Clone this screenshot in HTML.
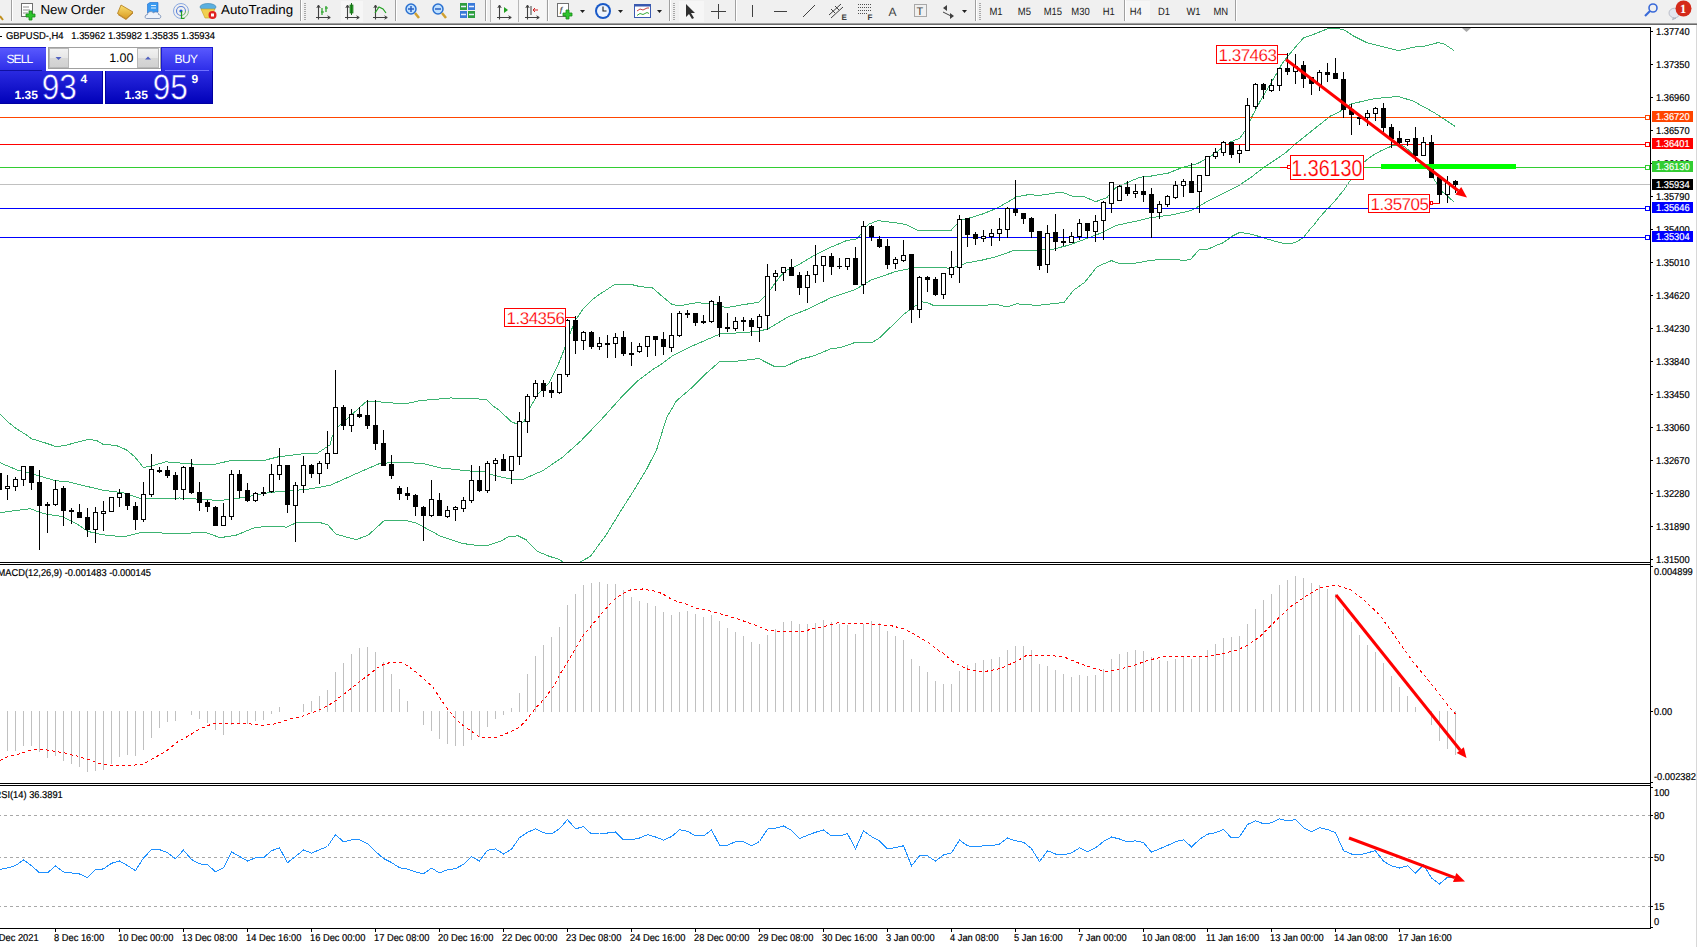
<!DOCTYPE html>
<html><head><meta charset="utf-8"><title>MT4 GBPUSD H4</title>
<style>
html,body{margin:0;padding:0;background:#fff;}
body{width:1697px;height:947px;overflow:hidden;position:relative;}
svg{position:absolute;left:0;top:0;display:block;font-family:"Liberation Sans", sans-serif;}
text{font-family:"Liberation Sans", sans-serif;text-rendering:geometricPrecision;}
</style></head>
<body>
<svg width="1697" height="947" viewBox="0 0 1697 947">
<defs>
<clipPath id="cm"><rect x="0" y="28" width="1650" height="534"/></clipPath>
<clipPath id="cd"><rect x="0" y="565" width="1650" height="218"/></clipPath>
<clipPath id="cr"><rect x="0" y="786" width="1650" height="142"/></clipPath>
<linearGradient id="gup" x1="0" y1="0" x2="0" y2="1"><stop offset="0" stop-color="#5a5aff"/><stop offset="1" stop-color="#2c2ce8"/></linearGradient>
<linearGradient id="gdn" x1="0" y1="0" x2="0" y2="1"><stop offset="0" stop-color="#2a2ae0"/><stop offset="1" stop-color="#0000b8"/></linearGradient>
<linearGradient id="gbtn" x1="0" y1="0" x2="0" y2="1"><stop offset="0" stop-color="#f2f2f2"/><stop offset="0.5" stop-color="#e6e6e6"/><stop offset="0.5" stop-color="#d8d8d8"/><stop offset="1" stop-color="#d0d0d0"/></linearGradient>
<linearGradient id="gdn2" gradientUnits="userSpaceOnUse" x1="0" y1="71" x2="0" y2="104"><stop offset="0" stop-color="#2a2ae0"/><stop offset="1" stop-color="#0000b8"/></linearGradient>
</defs>
<rect x="0" y="0" width="1697" height="23" fill="#f0f0f0"/>
<rect x="0" y="23" width="1697" height="1" fill="#a0a0a0"/>
<rect x="0" y="24" width="1697" height="1" fill="#6a6a6a"/>
<rect x="1696" y="25" width="1" height="922" fill="#d8d8d8"/>
<rect x="11" y="0" width="1" height="21" fill="#a0a0a0"/>
<rect x="12" y="0" width="1" height="21" fill="#ffffff"/>
<path d="M0,16 L3,20" stroke="#c09020" stroke-width="2"/>
<rect x="21.5" y="3.5" width="11" height="13" fill="#fff" stroke="#707070"/>
<path d="M23,7h6M23,10h7M23,13h5" stroke="#909090"/>
<path d="M29,11h3v3h3v3h-3v3h-3v-3h-3v-3h3z" fill="#2ec42e" stroke="#1a8a1a" stroke-width="0.8"/>
<text transform="translate(40.5,13.8) scale(1.025,1)" font-size="13" fill="#000" text-anchor="start" font-weight="normal" >New Order</text>
<linearGradient id="gbook" x1="0" y1="0" x2="0" y2="1"><stop offset="0" stop-color="#fbe070"/><stop offset="1" stop-color="#d89a20"/></linearGradient>
<path d="M117.5,13.5 L121,5 L133,12 L126,19 Z" fill="url(#gbook)" stroke="#b07818" stroke-width="0.8"/>
<path d="M118,14.5 L126,19.5 L133,13" fill="none" stroke="#c08a30" stroke-width="1"/>
<path d="M147.5,4 L150,2.5 L158,2.5 L158,12 L147.5,13 Z" fill="#3a9af0" stroke="#1a6ad0" stroke-width="0.6"/>
<path d="M151,5.5 h5 M151,8 h5" stroke="#e0f0ff" stroke-width="1"/>
<path d="M146.5,18.5 C144.5,18.5 144.5,14.5 147.5,14.5 C147.5,11.5 152,10.5 153.5,13 C155,11 159,12 158.5,14.5 C161.5,14.5 161.5,18.5 159,18.5 Z" fill="#eef2fa" stroke="#7088b0" stroke-width="0.8"/>
<path d="M181,18.5 A7.5,7.5 0 1 1 188.5,11" fill="none" stroke="#8aa8e0" stroke-width="1"/>
<path d="M188.5,11 A7.5,7.5 0 0 1 181,18.5" fill="none" stroke="#8ac08a" stroke-width="1"/>
<path d="M181,15.5 A4.5,4.5 0 1 1 185.5,11" fill="none" stroke="#5a80d8" stroke-width="1.1"/>
<path d="M185.5,11 A4.5,4.5 0 0 1 181,15.5" fill="none" stroke="#6ab06a" stroke-width="1.1"/>
<circle cx="181" cy="11" r="1.6" fill="#1a5ad0"/>
<path d="M181.5,11 v7.5 h3" stroke="#20a020" stroke-width="1.2" fill="none"/>
<ellipse cx="208" cy="7" rx="8" ry="3.5" fill="#5ab0e0" stroke="#3080b0" stroke-width="0.6"/>
<path d="M201,9 L215,9 L210,18 L205,18 Z" fill="#f0d050" stroke="#c0a020" stroke-width="0.6"/>
<circle cx="212.5" cy="15" r="4" fill="#e02020"/>
<rect x="211" y="13.5" width="3" height="3" fill="#fff"/>
<text transform="translate(221,13.8) scale(1.025,1)" font-size="13" fill="#000" text-anchor="start" font-weight="normal" >AutoTrading</text>
<rect x="300" y="0" width="1" height="21" fill="#a0a0a0"/>
<rect x="301" y="0" width="1" height="21" fill="#ffffff"/>
<rect x="304" y="3" width="2" height="1" fill="#a8a8a8"/>
<rect x="304" y="5" width="2" height="1" fill="#a8a8a8"/>
<rect x="304" y="7" width="2" height="1" fill="#a8a8a8"/>
<rect x="304" y="9" width="2" height="1" fill="#a8a8a8"/>
<rect x="304" y="11" width="2" height="1" fill="#a8a8a8"/>
<rect x="304" y="13" width="2" height="1" fill="#a8a8a8"/>
<rect x="304" y="15" width="2" height="1" fill="#a8a8a8"/>
<rect x="304" y="17" width="2" height="1" fill="#a8a8a8"/>
<rect x="304" y="19" width="2" height="1" fill="#a8a8a8"/>
<path d="M318.5,5.5 V19.5 M316,17.5 H330" stroke="#404040" fill="none" stroke-width="1.1"/>
<path d="M316.8,8 L318.5,5 L320.2,8 M327.5,15.8 L330.3,17.5 L327.5,19.2" stroke="#404040" fill="none" stroke-width="1"/>
<path d="M322,15 v-7 M321,12 h3 M326,12 v-6 M325,8 h3" stroke="#20a020" stroke-width="1.2"/>
<rect x="341" y="1" width="22" height="21" fill="#f6f6f6"/>
<path d="M347.5,5.5 V19.5 M345,17.5 H359" stroke="#404040" fill="none" stroke-width="1.1"/>
<path d="M345.8,8 L347.5,5 L349.2,8 M356.5,15.8 L359.3,17.5 L356.5,19.2" stroke="#404040" fill="none" stroke-width="1"/>
<rect x="350" y="5" width="3" height="8" fill="#30b030" stroke="#187018" stroke-width="0.7"/><path d="M351.5,3 v12" stroke="#187018"/>
<path d="M375.5,5.5 V19.5 M373,17.5 H387" stroke="#404040" fill="none" stroke-width="1.1"/>
<path d="M373.8,8 L375.5,5 L377.2,8 M384.5,15.8 L387.3,17.5 L384.5,19.2" stroke="#404040" fill="none" stroke-width="1"/>
<path d="M375,13 L379,7 L383,9 L386,13" stroke="#20a020" fill="none" stroke-width="1.2"/>
<rect x="395" y="0" width="1" height="21" fill="#a0a0a0"/>
<rect x="396" y="0" width="1" height="21" fill="#ffffff"/>
<circle cx="411" cy="9" r="5" fill="#bfe0ff" stroke="#2a70d0" stroke-width="1.5"/>
<path d="M415,13 L419,18" stroke="#d0a030" stroke-width="2.5"/>
<path d="M408,9 h6" stroke="#2a60c0" stroke-width="1.5"/>
<path d="M411,6 v6" stroke="#2a60c0" stroke-width="1.5"/>
<circle cx="438" cy="9" r="5" fill="#bfe0ff" stroke="#2a70d0" stroke-width="1.5"/>
<path d="M442,13 L446,18" stroke="#d0a030" stroke-width="2.5"/>
<path d="M435,9 h6" stroke="#2a60c0" stroke-width="1.5"/>
<rect x="460" y="3" width="7" height="7" fill="#2e9e3e"/><rect x="468" y="3" width="7" height="7" fill="#3a7ad8"/><rect x="460" y="11" width="7" height="7" fill="#3a7ad8"/><rect x="468" y="11" width="7" height="7" fill="#2e9e3e"/>
<path d="M461,6.5 h5 M469,6.5 h5 M461,14.5 h5 M469,14.5 h5" stroke="#e8f0ff" stroke-width="1.5"/>
<rect x="485" y="0" width="1" height="21" fill="#a0a0a0"/>
<rect x="486" y="0" width="1" height="21" fill="#ffffff"/>
<rect x="491" y="0" width="27" height="22" fill="#f6f6f6"/>
<rect x="490" y="0" width="1" height="22" fill="#b8b8b8"/>
<rect x="518" y="0" width="1" height="22" fill="#b8b8b8"/>
<path d="M499.5,5.5 V19.5 M497,17.5 H511" stroke="#404040" fill="none" stroke-width="1.1"/>
<path d="M497.8,8 L499.5,5 L501.2,8 M508.5,15.8 L511.3,17.5 L508.5,19.2" stroke="#404040" fill="none" stroke-width="1"/>
<path d="M504,7 l4,3 l-4,3 z" fill="#20a020"/>
<rect x="519" y="0" width="27" height="22" fill="#f6f6f6"/>
<path d="M527.5,5.5 V19.5 M525,17.5 H539" stroke="#404040" fill="none" stroke-width="1.1"/>
<path d="M525.8,8 L527.5,5 L529.2,8 M536.5,15.8 L539.3,17.5 L536.5,19.2" stroke="#404040" fill="none" stroke-width="1"/>
<path d="M531,6 v9" stroke="#404040"/><path d="M538,10 h-5 M535,8 l-2,2 l2,2" stroke="#d02020" fill="none"/>
<rect x="547" y="0" width="1" height="21" fill="#a0a0a0"/>
<rect x="548" y="0" width="1" height="21" fill="#ffffff"/>
<rect x="557.5" y="3.5" width="11" height="13" fill="#fff" stroke="#707070"/>
<text x="559.5" y="14" font-size="10" fill="#404040" text-anchor="start" font-weight="normal" font-style="italic">f</text>
<path d="M566,10h3v3h3v3h-3v3h-3v-3h-3v-3h3z" fill="#2ec42e" stroke="#1a8a1a" stroke-width="0.8"/>
<path d="M580,10 h5 l-2.5,3 z" fill="#202020"/>
<circle cx="603" cy="11" r="8" fill="#1a5ac8"/><circle cx="603" cy="11" r="6" fill="#eef4fc"/><path d="M603,6.5 v4.5 h3.5" stroke="#202020" fill="none" stroke-width="1.1"/>
<path d="M618,10 h5 l-2.5,3 z" fill="#202020"/>
<rect x="634.5" y="4.5" width="16" height="13" fill="#fff" stroke="#3a5ab0"/><rect x="634.5" y="4.5" width="16" height="2" fill="#3a5ab0"/>
<path d="M637,11 l3,-2 l3,1 l4,-2 l2,0" stroke="#c03030" fill="none" stroke-width="0.9"/><path d="M637,15.5 l3,-2 l3,1 l4,-2 l2,1" stroke="#20a020" fill="none" stroke-width="0.9"/>
<path d="M657,10 h5 l-2.5,3 z" fill="#202020"/>
<rect x="669" y="0" width="1" height="21" fill="#a0a0a0"/>
<rect x="670" y="0" width="1" height="21" fill="#ffffff"/>
<rect x="673" y="3" width="2" height="1" fill="#a8a8a8"/>
<rect x="673" y="5" width="2" height="1" fill="#a8a8a8"/>
<rect x="673" y="7" width="2" height="1" fill="#a8a8a8"/>
<rect x="673" y="9" width="2" height="1" fill="#a8a8a8"/>
<rect x="673" y="11" width="2" height="1" fill="#a8a8a8"/>
<rect x="673" y="13" width="2" height="1" fill="#a8a8a8"/>
<rect x="673" y="15" width="2" height="1" fill="#a8a8a8"/>
<rect x="673" y="17" width="2" height="1" fill="#a8a8a8"/>
<rect x="673" y="19" width="2" height="1" fill="#a8a8a8"/>
<rect x="679" y="1" width="25" height="21" fill="#f6f6f6"/>
<path d="M686,4 L686,17 L689,14 L692,19 L694,18 L691,13 L695,13 Z" fill="#303030"/>
<path d="M718.5,4 v15 M711,11.5 h15" stroke="#404040"/>
<rect x="735" y="0" width="1" height="21" fill="#a0a0a0"/>
<rect x="736" y="0" width="1" height="21" fill="#ffffff"/>
<path d="M752.5,5 v12" stroke="#404040"/>
<path d="M774,11.5 h13" stroke="#404040"/>
<path d="M803,17 L815,5" stroke="#404040"/>
<path d="M829,15 L841,4 M831,18 L843,7 M831,9 l4,4 M835,6 l4,4" stroke="#404040"/>
<text x="841.5" y="20" font-size="8" fill="#404040" text-anchor="start" font-weight="bold" >E</text>
<path d="M858,4.5 h13 M858,7.5 h13 M858,10.5 h13 M858,13.5 h10" stroke="#505050" stroke-dasharray="1,1"/>
<text x="867.5" y="20" font-size="8" fill="#404040" text-anchor="start" font-weight="bold" >F</text>
<text x="888.5" y="16" font-size="12" fill="#404040" text-anchor="start" font-weight="normal" >A</text>
<rect x="914.5" y="4.5" width="12" height="12" fill="none" stroke="#606060" stroke-dasharray="1,1"/>
<text x="916.5" y="15" font-size="11" fill="#404040" text-anchor="start" font-weight="normal" >T</text>
<path d="M943,8 l4,-3 l0,6 z M950,13 l4,3 l-4,3 z" fill="#404040"/><path d="M943,12 l8,4" stroke="#404040"/>
<path d="M962,10 h5 l-2.5,3 z" fill="#202020"/>
<rect x="975" y="0" width="1" height="21" fill="#a0a0a0"/>
<rect x="976" y="0" width="1" height="21" fill="#ffffff"/>
<rect x="979" y="3" width="2" height="1" fill="#a8a8a8"/>
<rect x="979" y="5" width="2" height="1" fill="#a8a8a8"/>
<rect x="979" y="7" width="2" height="1" fill="#a8a8a8"/>
<rect x="979" y="9" width="2" height="1" fill="#a8a8a8"/>
<rect x="979" y="11" width="2" height="1" fill="#a8a8a8"/>
<rect x="979" y="13" width="2" height="1" fill="#a8a8a8"/>
<rect x="979" y="15" width="2" height="1" fill="#a8a8a8"/>
<rect x="979" y="17" width="2" height="1" fill="#a8a8a8"/>
<rect x="979" y="19" width="2" height="1" fill="#a8a8a8"/>
<text transform="translate(989.5,15) scale(0.9,1)" font-size="10.5" fill="#202020" text-anchor="start" font-weight="normal" >M1</text>
<text transform="translate(1017.8,15) scale(0.9,1)" font-size="10.5" fill="#202020" text-anchor="start" font-weight="normal" >M5</text>
<text transform="translate(1043.7,15) scale(0.9,1)" font-size="10.5" fill="#202020" text-anchor="start" font-weight="normal" >M15</text>
<text transform="translate(1071.3,15) scale(0.9,1)" font-size="10.5" fill="#202020" text-anchor="start" font-weight="normal" >M30</text>
<text transform="translate(1102.7,15) scale(0.9,1)" font-size="10.5" fill="#202020" text-anchor="start" font-weight="normal" >H1</text>
<rect x="1124" y="0" width="1" height="21" fill="#a0a0a0"/>
<rect x="1125" y="0" width="1" height="21" fill="#ffffff"/>
<rect x="1126" y="1" width="24" height="21" fill="#f6f6f6"/>
<text transform="translate(1129.8,15) scale(0.9,1)" font-size="10.5" fill="#202020" text-anchor="start" font-weight="normal" >H4</text>
<text transform="translate(1158,15) scale(0.9,1)" font-size="10.5" fill="#202020" text-anchor="start" font-weight="normal" >D1</text>
<text transform="translate(1186.4,15) scale(0.9,1)" font-size="10.5" fill="#202020" text-anchor="start" font-weight="normal" >W1</text>
<text transform="translate(1213.5,15) scale(0.9,1)" font-size="10.5" fill="#202020" text-anchor="start" font-weight="normal" >MN</text>
<rect x="1235" y="0" width="1" height="21" fill="#a0a0a0"/>
<rect x="1236" y="0" width="1" height="21" fill="#ffffff"/>
<circle cx="1653" cy="8" r="4" fill="none" stroke="#3a6ad8" stroke-width="1.6"/><path d="M1650,11 L1645,16" stroke="#3a6ad8" stroke-width="2.2"/>
<path d="M1673,18 L1672.5,19.8 L1676,18.2 Z" fill="#c8ccd8" stroke="#a0a8b8" stroke-width="0.6"/>
<ellipse cx="1674.5" cy="13" rx="5.5" ry="4.8" fill="#e4e6ee" stroke="#b0b4c0" stroke-width="0.8"/>
<circle cx="1683.5" cy="8.5" r="8" fill="#d42a1a"/>
<text x="1683" y="13" font-size="12.5" fill="#fff" text-anchor="middle" font-weight="bold" style="font-family:'Liberation Serif',serif">1</text>
<rect x="0" y="27" width="1651" height="1" fill="#000"/>
<rect x="1650" y="27" width="1" height="902" fill="#000"/>
<rect x="0" y="562" width="1651" height="1" fill="#000"/>
<rect x="0" y="564" width="1651" height="1" fill="#000"/>
<rect x="0" y="783" width="1651" height="1" fill="#000"/>
<rect x="0" y="785" width="1651" height="1" fill="#000"/>
<rect x="0" y="928" width="1651" height="1" fill="#000"/>
<rect x="1651" y="31" width="2" height="1" fill="#000"/>
<text transform="translate(1656,35) scale(0.93,1)" font-size="10" fill="#000" text-anchor="start" font-weight="normal" stroke="#000" stroke-width="0.2">1.37740</text>
<rect x="1651" y="64" width="2" height="1" fill="#000"/>
<text transform="translate(1656,68) scale(0.93,1)" font-size="10" fill="#000" text-anchor="start" font-weight="normal" stroke="#000" stroke-width="0.2">1.37350</text>
<rect x="1651" y="97" width="2" height="1" fill="#000"/>
<text transform="translate(1656,101) scale(0.93,1)" font-size="10" fill="#000" text-anchor="start" font-weight="normal" stroke="#000" stroke-width="0.2">1.36960</text>
<rect x="1651" y="130" width="2" height="1" fill="#000"/>
<text transform="translate(1656,134) scale(0.93,1)" font-size="10" fill="#000" text-anchor="start" font-weight="normal" stroke="#000" stroke-width="0.2">1.36570</text>
<rect x="1651" y="163" width="2" height="1" fill="#000"/>
<text transform="translate(1656,167) scale(0.93,1)" font-size="10" fill="#000" text-anchor="start" font-weight="normal" stroke="#000" stroke-width="0.2">1.36180</text>
<rect x="1651" y="196" width="2" height="1" fill="#000"/>
<text transform="translate(1656,200) scale(0.93,1)" font-size="10" fill="#000" text-anchor="start" font-weight="normal" stroke="#000" stroke-width="0.2">1.35790</text>
<rect x="1651" y="229" width="2" height="1" fill="#000"/>
<text transform="translate(1656,233) scale(0.93,1)" font-size="10" fill="#000" text-anchor="start" font-weight="normal" stroke="#000" stroke-width="0.2">1.35400</text>
<rect x="1651" y="262" width="2" height="1" fill="#000"/>
<text transform="translate(1656,266) scale(0.93,1)" font-size="10" fill="#000" text-anchor="start" font-weight="normal" stroke="#000" stroke-width="0.2">1.35010</text>
<rect x="1651" y="295" width="2" height="1" fill="#000"/>
<text transform="translate(1656,299) scale(0.93,1)" font-size="10" fill="#000" text-anchor="start" font-weight="normal" stroke="#000" stroke-width="0.2">1.34620</text>
<rect x="1651" y="328" width="2" height="1" fill="#000"/>
<text transform="translate(1656,332) scale(0.93,1)" font-size="10" fill="#000" text-anchor="start" font-weight="normal" stroke="#000" stroke-width="0.2">1.34230</text>
<rect x="1651" y="361" width="2" height="1" fill="#000"/>
<text transform="translate(1656,365) scale(0.93,1)" font-size="10" fill="#000" text-anchor="start" font-weight="normal" stroke="#000" stroke-width="0.2">1.33840</text>
<rect x="1651" y="394" width="2" height="1" fill="#000"/>
<text transform="translate(1656,398) scale(0.93,1)" font-size="10" fill="#000" text-anchor="start" font-weight="normal" stroke="#000" stroke-width="0.2">1.33450</text>
<rect x="1651" y="427" width="2" height="1" fill="#000"/>
<text transform="translate(1656,431) scale(0.93,1)" font-size="10" fill="#000" text-anchor="start" font-weight="normal" stroke="#000" stroke-width="0.2">1.33060</text>
<rect x="1651" y="460" width="2" height="1" fill="#000"/>
<text transform="translate(1656,464) scale(0.93,1)" font-size="10" fill="#000" text-anchor="start" font-weight="normal" stroke="#000" stroke-width="0.2">1.32670</text>
<rect x="1651" y="493" width="2" height="1" fill="#000"/>
<text transform="translate(1656,497) scale(0.93,1)" font-size="10" fill="#000" text-anchor="start" font-weight="normal" stroke="#000" stroke-width="0.2">1.32280</text>
<rect x="1651" y="526" width="2" height="1" fill="#000"/>
<text transform="translate(1656,530) scale(0.93,1)" font-size="10" fill="#000" text-anchor="start" font-weight="normal" stroke="#000" stroke-width="0.2">1.31890</text>
<rect x="1651" y="559" width="2" height="1" fill="#000"/>
<text transform="translate(1656,563) scale(0.93,1)" font-size="10" fill="#000" text-anchor="start" font-weight="normal" stroke="#000" stroke-width="0.2">1.31500</text>
<text transform="translate(-9,941) scale(0.93,1)" font-size="10" fill="#000" text-anchor="start" font-weight="normal" stroke="#000" stroke-width="0.2">7 Dec 2021</text>
<rect x="55" y="929" width="1" height="3" fill="#000"/>
<text transform="translate(54,941) scale(0.93,1)" font-size="10" fill="#000" text-anchor="start" font-weight="normal" stroke="#000" stroke-width="0.2">8 Dec 16:00</text>
<rect x="119" y="929" width="1" height="3" fill="#000"/>
<text transform="translate(118,941) scale(0.93,1)" font-size="10" fill="#000" text-anchor="start" font-weight="normal" stroke="#000" stroke-width="0.2">10 Dec 00:00</text>
<rect x="183" y="929" width="1" height="3" fill="#000"/>
<text transform="translate(182,941) scale(0.93,1)" font-size="10" fill="#000" text-anchor="start" font-weight="normal" stroke="#000" stroke-width="0.2">13 Dec 08:00</text>
<rect x="247" y="929" width="1" height="3" fill="#000"/>
<text transform="translate(246,941) scale(0.93,1)" font-size="10" fill="#000" text-anchor="start" font-weight="normal" stroke="#000" stroke-width="0.2">14 Dec 16:00</text>
<rect x="311" y="929" width="1" height="3" fill="#000"/>
<text transform="translate(310,941) scale(0.93,1)" font-size="10" fill="#000" text-anchor="start" font-weight="normal" stroke="#000" stroke-width="0.2">16 Dec 00:00</text>
<rect x="375" y="929" width="1" height="3" fill="#000"/>
<text transform="translate(374,941) scale(0.93,1)" font-size="10" fill="#000" text-anchor="start" font-weight="normal" stroke="#000" stroke-width="0.2">17 Dec 08:00</text>
<rect x="439" y="929" width="1" height="3" fill="#000"/>
<text transform="translate(438,941) scale(0.93,1)" font-size="10" fill="#000" text-anchor="start" font-weight="normal" stroke="#000" stroke-width="0.2">20 Dec 16:00</text>
<rect x="503" y="929" width="1" height="3" fill="#000"/>
<text transform="translate(502,941) scale(0.93,1)" font-size="10" fill="#000" text-anchor="start" font-weight="normal" stroke="#000" stroke-width="0.2">22 Dec 00:00</text>
<rect x="567" y="929" width="1" height="3" fill="#000"/>
<text transform="translate(566,941) scale(0.93,1)" font-size="10" fill="#000" text-anchor="start" font-weight="normal" stroke="#000" stroke-width="0.2">23 Dec 08:00</text>
<rect x="631" y="929" width="1" height="3" fill="#000"/>
<text transform="translate(630,941) scale(0.93,1)" font-size="10" fill="#000" text-anchor="start" font-weight="normal" stroke="#000" stroke-width="0.2">24 Dec 16:00</text>
<rect x="695" y="929" width="1" height="3" fill="#000"/>
<text transform="translate(694,941) scale(0.93,1)" font-size="10" fill="#000" text-anchor="start" font-weight="normal" stroke="#000" stroke-width="0.2">28 Dec 00:00</text>
<rect x="759" y="929" width="1" height="3" fill="#000"/>
<text transform="translate(758,941) scale(0.93,1)" font-size="10" fill="#000" text-anchor="start" font-weight="normal" stroke="#000" stroke-width="0.2">29 Dec 08:00</text>
<rect x="823" y="929" width="1" height="3" fill="#000"/>
<text transform="translate(822,941) scale(0.93,1)" font-size="10" fill="#000" text-anchor="start" font-weight="normal" stroke="#000" stroke-width="0.2">30 Dec 16:00</text>
<rect x="887" y="929" width="1" height="3" fill="#000"/>
<text transform="translate(886,941) scale(0.93,1)" font-size="10" fill="#000" text-anchor="start" font-weight="normal" stroke="#000" stroke-width="0.2">3 Jan 00:00</text>
<rect x="951" y="929" width="1" height="3" fill="#000"/>
<text transform="translate(950,941) scale(0.93,1)" font-size="10" fill="#000" text-anchor="start" font-weight="normal" stroke="#000" stroke-width="0.2">4 Jan 08:00</text>
<rect x="1015" y="929" width="1" height="3" fill="#000"/>
<text transform="translate(1014,941) scale(0.93,1)" font-size="10" fill="#000" text-anchor="start" font-weight="normal" stroke="#000" stroke-width="0.2">5 Jan 16:00</text>
<rect x="1079" y="929" width="1" height="3" fill="#000"/>
<text transform="translate(1078,941) scale(0.93,1)" font-size="10" fill="#000" text-anchor="start" font-weight="normal" stroke="#000" stroke-width="0.2">7 Jan 00:00</text>
<rect x="1143" y="929" width="1" height="3" fill="#000"/>
<text transform="translate(1142,941) scale(0.93,1)" font-size="10" fill="#000" text-anchor="start" font-weight="normal" stroke="#000" stroke-width="0.2">10 Jan 08:00</text>
<rect x="1207" y="929" width="1" height="3" fill="#000"/>
<text transform="translate(1206,941) scale(0.93,1)" font-size="10" fill="#000" text-anchor="start" font-weight="normal" stroke="#000" stroke-width="0.2">11 Jan 16:00</text>
<rect x="1271" y="929" width="1" height="3" fill="#000"/>
<text transform="translate(1270,941) scale(0.93,1)" font-size="10" fill="#000" text-anchor="start" font-weight="normal" stroke="#000" stroke-width="0.2">13 Jan 00:00</text>
<rect x="1335" y="929" width="1" height="3" fill="#000"/>
<text transform="translate(1334,941) scale(0.93,1)" font-size="10" fill="#000" text-anchor="start" font-weight="normal" stroke="#000" stroke-width="0.2">14 Jan 08:00</text>
<rect x="1399" y="929" width="1" height="3" fill="#000"/>
<text transform="translate(1398,941) scale(0.93,1)" font-size="10" fill="#000" text-anchor="start" font-weight="normal" stroke="#000" stroke-width="0.2">17 Jan 16:00</text>
<g clip-path="url(#cm)">
<polyline points="0.0,413.9 3.5,417.4 8.9,422.8 17.1,429.2 25.3,434.2 31.7,439.0 38.0,440.6 50.7,444.7 55.8,446.9 67.2,444.9 86.4,439.8 96.0,440.1 102.9,444.2 116.6,445.6 126.2,449.7 134.5,456.5 143.4,467.5 151.0,466.2 160.0,463.5 166.0,461.8 190.1,463.9 212.2,464.9 232.3,460.2 262.4,460.8 278.4,456.8 302.5,453.8 316.6,453.8 330.0,444.8 332.0,436.8 338.0,426.7 352.1,414.3 366.2,401.6 376.2,401.2 384.2,402.6 406.3,403.6 420.3,400.6 450.4,398.0 468.5,398.2 486.6,399.6 492.6,405.7 498.6,409.8 512.3,422.5 518.2,423.9 524.0,421.5 529.9,407.9 537.7,394.2 549.4,382.5 557.6,366.0 566.1,344.9 574.5,321.6 583.0,309.0 591.4,300.5 596.1,296.7 614.2,284.7 632.2,284.7 640.2,286.7 652.3,287.7 660.3,294.7 672.3,304.7 680.3,305.7 696.4,302.7 712.4,303.7 726.5,307.7 740.5,305.1 758.6,302.3 766.6,294.7 780.0,276.6 785.8,270.5 798.5,264.9 814.3,255.4 830.2,247.5 846.0,240.8 857.1,238.8 868.2,224.5 877.7,220.6 896.7,223.0 906.2,224.5 918.8,230.9 950.5,230.9 960.0,220.6 965.8,219.1 981.7,214.3 997.5,208.0 1016.5,196.9 1029.2,194.5 1038.7,195.6 1057.7,192.6 1064.0,193.0 1073.5,196.6 1084.6,196.9 1095.7,201.7 1106.7,197.7 1116.2,187.4 1127.3,182.7 1140.0,177.1 1146.9,176.8 1168.0,173.2 1182.8,167.3 1197.6,163.5 1210.3,156.7 1220.9,148.7 1231.4,141.5 1239.9,138.1 1246.2,129.2 1252.5,115.5 1261.0,99.7 1273.7,78.5 1282.1,63.7 1289.5,54.2 1296.6,45.7 1303.6,37.9 1313.5,34.4 1327.7,28.7 1339.0,28.7 1344.7,30.2 1353.2,35.8 1367.3,42.9 1381.4,46.4 1398.4,50.7 1414.0,47.1 1423.9,46.4 1438.0,42.6 1443.7,43.6 1454.3,50.7" fill="none" stroke="#3cb371" stroke-width="1" shape-rendering="crispEdges"/>
<polyline points="0.0,462.7 17.8,470.3 34.3,474.4 54.9,480.6 68.6,482.0 102.9,490.2 123.5,492.9 142.7,499.1 160.0,498.4 180.1,498.0 220.2,500.5 240.3,498.0 270.4,492.3 290.5,490.9 310.5,488.9 330.0,485.3 340.1,480.9 360.1,471.9 380.2,463.3 404.3,462.2 424.4,463.9 440.4,467.9 468.5,470.9 484.6,471.9 492.6,474.9 500.0,476.9 511.1,479.0 523.8,479.0 542.8,470.6 561.8,457.9 580.8,441.0 602.0,418.8 621.0,397.7 637.9,380.8 654.8,368.1 660.3,364.9 672.3,355.9 690.4,346.8 720.4,333.8 740.5,332.8 760.0,331.1 769.5,328.1 788.5,316.7 805.6,310.0 825.6,300.5 830.2,297.8 855.5,289.5 871.3,280.0 896.7,271.2 917.2,267.3 950.5,268.1 960.0,265.7 965.8,263.1 981.7,260.2 997.5,256.3 1013.3,250.7 1037.1,250.0 1052.9,249.2 1068.7,245.2 1084.6,239.3 1100.4,233.3 1116.2,225.4 1140.0,220.3 1151.1,217.6 1172.3,214.8 1191.3,210.6 1206.1,202.1 1225.1,192.6 1238.6,185.8 1251.4,177.0 1264.1,167.2 1278.1,157.9 1285.0,153.2 1295.5,143.9 1307.1,134.6 1318.7,125.4 1330.4,116.1 1340.0,111.4 1351.3,103.9 1374.5,98.6 1397.8,96.5 1412.5,100.7 1433.7,112.3 1454.8,126.1" fill="none" stroke="#3cb371" stroke-width="1" shape-rendering="crispEdges"/>
<polyline points="0.0,512.8 13.7,510.8 30.2,508.7 41.2,512.8 48.0,514.5 61.7,516.3 76.8,523.8 87.8,531.4 102.9,534.8 123.5,536.8 142.7,532.0 160.0,532.7 166.0,533.5 206.2,532.7 220.2,537.7 236.3,535.1 254.4,527.7 270.4,526.1 286.5,527.1 296.5,522.7 320.6,522.7 328.0,525.1 336.0,534.1 356.1,539.7 368.2,535.1 384.2,520.6 394.3,521.0 406.3,520.6 416.3,523.0 440.4,536.1 462.5,543.5 479.1,545.6 488.8,545.0 500.0,541.5 508.4,536.8 518.2,535.8 526.0,539.7 537.7,551.5 549.4,556.4 559.2,559.3 563.1,562.2 571.0,566.5 579.7,562.2 590.4,556.4 606.1,534.9 621.7,509.5 635.4,488.0 647.1,468.4 656.9,448.9 666.7,417.6 676.3,401.0 690.4,388.9 704.4,374.9 719.4,361.9 740.5,360.9 758.6,358.5 775.2,366.8 784.7,366.8 799.9,359.4 813.2,356.1 830.3,349.0 840.8,347.5 854.1,342.8 871.6,342.8 878.8,338.5 892.1,325.7 904.4,313.8 916.6,305.1 922.2,301.9 928.7,303.1 934.3,305.9 955.0,305.7 965.8,305.9 997.5,304.6 1007.0,307.0 1016.5,303.8 1037.1,305.4 1064.0,302.5 1073.5,290.3 1084.6,282.4 1097.2,266.6 1111.5,260.6 1120.0,263.8 1130.7,263.8 1139.0,262.6 1147.2,260.9 1155.5,259.9 1179.4,259.9 1183.5,260.9 1191.0,258.9 1195.1,254.3 1199.2,249.8 1208.3,249.0 1216.5,245.3 1223.1,242.8 1228.9,238.7 1232.2,236.2 1238.8,232.9 1243.8,232.9 1248.7,233.7 1255.9,235.5 1264.0,238.0 1273.6,240.9 1285.4,243.8 1288.0,244.0 1295.0,242.5 1300.5,239.5 1303.6,237.3 1309.0,230.5 1314.6,224.0 1320.0,217.0 1326.3,209.9 1330.0,206.4 1334.9,201.0 1344.2,189.5 1350.0,180.8 1357.0,171.0 1363.9,162.2 1372.0,155.8 1381.3,150.6 1391.8,146.0 1401.1,145.4 1404.6,146.5 1411.5,152.9 1418.5,159.3 1425.5,165.7 1433.6,178.5 1441.8,191.3 1454.5,202.3" fill="none" stroke="#3cb371" stroke-width="1" shape-rendering="crispEdges"/>
<rect x="0" y="117" width="1650" height="1" fill="#ff4500"/>
<rect x="0" y="144" width="1650" height="1" fill="#ff0000"/>
<rect x="0" y="167" width="1650" height="1" fill="#32cd32"/>
<rect x="0" y="184" width="1650" height="1" fill="#c0c0c0"/>
<rect x="0" y="208" width="1650" height="1" fill="#0000ff"/>
<rect x="0" y="237" width="1650" height="1" fill="#0000ff"/>
<rect x="-1" y="470" width="1" height="23" fill="#000"/>
<rect x="-3" y="473" width="5" height="17" fill="#000"/>
<rect x="7" y="475" width="1" height="25" fill="#000"/>
<rect x="5" y="486" width="5" height="3" fill="#000"/>
<rect x="6" y="487" width="3" height="1" fill="#fff"/>
<rect x="15" y="477" width="1" height="14" fill="#000"/>
<rect x="13" y="479" width="5" height="8" fill="#000"/>
<rect x="14" y="480" width="3" height="6" fill="#fff"/>
<rect x="23" y="466" width="1" height="20" fill="#000"/>
<rect x="21" y="466" width="5" height="14" fill="#000"/>
<rect x="22" y="467" width="3" height="12" fill="#fff"/>
<rect x="31" y="466" width="1" height="24" fill="#000"/>
<rect x="29" y="466" width="5" height="17" fill="#000"/>
<rect x="39" y="470" width="1" height="80" fill="#000"/>
<rect x="37" y="482" width="5" height="24" fill="#000"/>
<rect x="47" y="502" width="1" height="31" fill="#000"/>
<rect x="45" y="504" width="5" height="2" fill="#000"/>
<rect x="55" y="480" width="1" height="26" fill="#000"/>
<rect x="53" y="489" width="5" height="16" fill="#000"/>
<rect x="54" y="490" width="3" height="14" fill="#fff"/>
<rect x="63" y="486" width="1" height="40" fill="#000"/>
<rect x="61" y="488" width="5" height="23" fill="#000"/>
<rect x="71" y="508" width="1" height="16" fill="#000"/>
<rect x="69" y="510" width="5" height="2" fill="#000"/>
<rect x="79" y="504" width="1" height="14" fill="#000"/>
<rect x="77" y="512" width="5" height="6" fill="#000"/>
<rect x="87" y="508" width="1" height="29" fill="#000"/>
<rect x="85" y="517" width="5" height="13" fill="#000"/>
<rect x="95" y="507" width="1" height="36" fill="#000"/>
<rect x="93" y="512" width="5" height="18" fill="#000"/>
<rect x="94" y="513" width="3" height="16" fill="#fff"/>
<rect x="103" y="501" width="1" height="30" fill="#000"/>
<rect x="101" y="511" width="5" height="3" fill="#000"/>
<rect x="102" y="512" width="3" height="1" fill="#fff"/>
<rect x="111" y="497" width="1" height="15" fill="#000"/>
<rect x="109" y="497" width="5" height="15" fill="#000"/>
<rect x="110" y="498" width="3" height="13" fill="#fff"/>
<rect x="119" y="489" width="1" height="18" fill="#000"/>
<rect x="117" y="493" width="5" height="5" fill="#000"/>
<rect x="118" y="494" width="3" height="3" fill="#fff"/>
<rect x="127" y="493" width="1" height="17" fill="#000"/>
<rect x="125" y="493" width="5" height="13" fill="#000"/>
<rect x="135" y="502" width="1" height="28" fill="#000"/>
<rect x="133" y="506" width="5" height="14" fill="#000"/>
<rect x="143" y="482" width="1" height="40" fill="#000"/>
<rect x="141" y="494" width="5" height="26" fill="#000"/>
<rect x="142" y="495" width="3" height="24" fill="#fff"/>
<rect x="151" y="454" width="1" height="43" fill="#000"/>
<rect x="149" y="469" width="5" height="26" fill="#000"/>
<rect x="150" y="470" width="3" height="24" fill="#fff"/>
<rect x="159" y="467" width="1" height="6" fill="#000"/>
<rect x="157" y="470" width="5" height="2" fill="#000"/>
<rect x="167" y="466" width="1" height="12" fill="#000"/>
<rect x="165" y="470" width="5" height="6" fill="#000"/>
<rect x="175" y="472" width="1" height="28" fill="#000"/>
<rect x="173" y="475" width="5" height="15" fill="#000"/>
<rect x="183" y="466" width="1" height="34" fill="#000"/>
<rect x="181" y="467" width="5" height="23" fill="#000"/>
<rect x="182" y="468" width="3" height="21" fill="#fff"/>
<rect x="191" y="459" width="1" height="35" fill="#000"/>
<rect x="189" y="467" width="5" height="26" fill="#000"/>
<rect x="199" y="482" width="1" height="29" fill="#000"/>
<rect x="197" y="492" width="5" height="11" fill="#000"/>
<rect x="207" y="500" width="1" height="12" fill="#000"/>
<rect x="205" y="502" width="5" height="5" fill="#000"/>
<rect x="215" y="506" width="1" height="20" fill="#000"/>
<rect x="213" y="507" width="5" height="19" fill="#000"/>
<rect x="223" y="503" width="1" height="23" fill="#000"/>
<rect x="221" y="516" width="5" height="10" fill="#000"/>
<rect x="222" y="517" width="3" height="8" fill="#fff"/>
<rect x="231" y="470" width="1" height="50" fill="#000"/>
<rect x="229" y="474" width="5" height="43" fill="#000"/>
<rect x="230" y="475" width="3" height="41" fill="#fff"/>
<rect x="239" y="470" width="1" height="28" fill="#000"/>
<rect x="237" y="474" width="5" height="17" fill="#000"/>
<rect x="247" y="483" width="1" height="19" fill="#000"/>
<rect x="245" y="490" width="5" height="11" fill="#000"/>
<rect x="255" y="492" width="1" height="10" fill="#000"/>
<rect x="253" y="493" width="5" height="8" fill="#000"/>
<rect x="254" y="494" width="3" height="6" fill="#fff"/>
<rect x="263" y="487" width="1" height="9" fill="#000"/>
<rect x="261" y="492" width="5" height="2" fill="#000"/>
<rect x="271" y="464" width="1" height="29" fill="#000"/>
<rect x="269" y="474" width="5" height="18" fill="#000"/>
<rect x="270" y="475" width="3" height="16" fill="#fff"/>
<rect x="279" y="448" width="1" height="32" fill="#000"/>
<rect x="277" y="465" width="5" height="10" fill="#000"/>
<rect x="278" y="466" width="3" height="8" fill="#fff"/>
<rect x="287" y="465" width="1" height="48" fill="#000"/>
<rect x="285" y="465" width="5" height="40" fill="#000"/>
<rect x="295" y="482" width="1" height="60" fill="#000"/>
<rect x="293" y="485" width="5" height="21" fill="#000"/>
<rect x="294" y="486" width="3" height="19" fill="#fff"/>
<rect x="303" y="456" width="1" height="37" fill="#000"/>
<rect x="301" y="465" width="5" height="21" fill="#000"/>
<rect x="302" y="466" width="3" height="19" fill="#fff"/>
<rect x="311" y="464" width="1" height="14" fill="#000"/>
<rect x="309" y="465" width="5" height="9" fill="#000"/>
<rect x="319" y="461" width="1" height="23" fill="#000"/>
<rect x="317" y="463" width="5" height="11" fill="#000"/>
<rect x="318" y="464" width="3" height="9" fill="#fff"/>
<rect x="327" y="431" width="1" height="38" fill="#000"/>
<rect x="325" y="453" width="5" height="11" fill="#000"/>
<rect x="326" y="454" width="3" height="9" fill="#fff"/>
<rect x="335" y="370" width="1" height="84" fill="#000"/>
<rect x="333" y="407" width="5" height="47" fill="#000"/>
<rect x="334" y="408" width="3" height="45" fill="#fff"/>
<rect x="343" y="405" width="1" height="25" fill="#000"/>
<rect x="341" y="407" width="5" height="19" fill="#000"/>
<rect x="351" y="409" width="1" height="23" fill="#000"/>
<rect x="349" y="414" width="5" height="12" fill="#000"/>
<rect x="350" y="415" width="3" height="10" fill="#fff"/>
<rect x="359" y="407" width="1" height="11" fill="#000"/>
<rect x="357" y="414" width="5" height="3" fill="#000"/>
<rect x="367" y="400" width="1" height="29" fill="#000"/>
<rect x="365" y="415" width="5" height="11" fill="#000"/>
<rect x="375" y="400" width="1" height="50" fill="#000"/>
<rect x="373" y="425" width="5" height="19" fill="#000"/>
<rect x="383" y="430" width="1" height="36" fill="#000"/>
<rect x="381" y="443" width="5" height="23" fill="#000"/>
<rect x="391" y="455" width="1" height="24" fill="#000"/>
<rect x="389" y="464" width="5" height="12" fill="#000"/>
<rect x="399" y="486" width="1" height="14" fill="#000"/>
<rect x="397" y="488" width="5" height="6" fill="#000"/>
<rect x="407" y="487" width="1" height="13" fill="#000"/>
<rect x="405" y="493" width="5" height="3" fill="#000"/>
<rect x="415" y="494" width="1" height="22" fill="#000"/>
<rect x="413" y="495" width="5" height="12" fill="#000"/>
<rect x="423" y="506" width="1" height="35" fill="#000"/>
<rect x="421" y="507" width="5" height="9" fill="#000"/>
<rect x="431" y="480" width="1" height="37" fill="#000"/>
<rect x="429" y="499" width="5" height="17" fill="#000"/>
<rect x="430" y="500" width="3" height="15" fill="#fff"/>
<rect x="439" y="493" width="1" height="23" fill="#000"/>
<rect x="437" y="500" width="5" height="16" fill="#000"/>
<rect x="447" y="506" width="1" height="12" fill="#000"/>
<rect x="445" y="510" width="5" height="7" fill="#000"/>
<rect x="446" y="511" width="3" height="5" fill="#fff"/>
<rect x="455" y="506" width="1" height="15" fill="#000"/>
<rect x="453" y="507" width="5" height="3" fill="#000"/>
<rect x="454" y="508" width="3" height="1" fill="#fff"/>
<rect x="463" y="497" width="1" height="15" fill="#000"/>
<rect x="461" y="500" width="5" height="9" fill="#000"/>
<rect x="462" y="501" width="3" height="7" fill="#fff"/>
<rect x="471" y="465" width="1" height="38" fill="#000"/>
<rect x="469" y="480" width="5" height="21" fill="#000"/>
<rect x="470" y="481" width="3" height="19" fill="#fff"/>
<rect x="479" y="466" width="1" height="26" fill="#000"/>
<rect x="477" y="480" width="5" height="11" fill="#000"/>
<rect x="487" y="461" width="1" height="32" fill="#000"/>
<rect x="485" y="463" width="5" height="28" fill="#000"/>
<rect x="486" y="464" width="3" height="26" fill="#fff"/>
<rect x="495" y="458" width="1" height="23" fill="#000"/>
<rect x="493" y="460" width="5" height="4" fill="#000"/>
<rect x="494" y="461" width="3" height="2" fill="#fff"/>
<rect x="503" y="454" width="1" height="17" fill="#000"/>
<rect x="501" y="459" width="5" height="12" fill="#000"/>
<rect x="511" y="456" width="1" height="28" fill="#000"/>
<rect x="509" y="456" width="5" height="15" fill="#000"/>
<rect x="510" y="457" width="3" height="13" fill="#fff"/>
<rect x="519" y="412" width="1" height="53" fill="#000"/>
<rect x="517" y="421" width="5" height="36" fill="#000"/>
<rect x="518" y="422" width="3" height="34" fill="#fff"/>
<rect x="527" y="394" width="1" height="39" fill="#000"/>
<rect x="525" y="396" width="5" height="26" fill="#000"/>
<rect x="526" y="397" width="3" height="24" fill="#fff"/>
<rect x="535" y="380" width="1" height="19" fill="#000"/>
<rect x="533" y="383" width="5" height="14" fill="#000"/>
<rect x="534" y="384" width="3" height="12" fill="#fff"/>
<rect x="543" y="380" width="1" height="17" fill="#000"/>
<rect x="541" y="383" width="5" height="8" fill="#000"/>
<rect x="551" y="382" width="1" height="16" fill="#000"/>
<rect x="549" y="390" width="5" height="3" fill="#000"/>
<rect x="559" y="374" width="1" height="20" fill="#000"/>
<rect x="557" y="374" width="5" height="19" fill="#000"/>
<rect x="558" y="375" width="3" height="17" fill="#fff"/>
<rect x="567" y="319" width="1" height="58" fill="#000"/>
<rect x="565" y="320" width="5" height="55" fill="#000"/>
<rect x="566" y="321" width="3" height="53" fill="#fff"/>
<rect x="575" y="316" width="1" height="38" fill="#000"/>
<rect x="573" y="320" width="5" height="21" fill="#000"/>
<rect x="583" y="331" width="1" height="19" fill="#000"/>
<rect x="581" y="332" width="5" height="9" fill="#000"/>
<rect x="582" y="333" width="3" height="7" fill="#fff"/>
<rect x="591" y="331" width="1" height="18" fill="#000"/>
<rect x="589" y="332" width="5" height="15" fill="#000"/>
<rect x="599" y="337" width="1" height="13" fill="#000"/>
<rect x="597" y="343" width="5" height="4" fill="#000"/>
<rect x="598" y="344" width="3" height="2" fill="#fff"/>
<rect x="607" y="335" width="1" height="23" fill="#000"/>
<rect x="605" y="343" width="5" height="2" fill="#000"/>
<rect x="615" y="333" width="1" height="25" fill="#000"/>
<rect x="613" y="337" width="5" height="7" fill="#000"/>
<rect x="614" y="338" width="3" height="5" fill="#fff"/>
<rect x="623" y="331" width="1" height="25" fill="#000"/>
<rect x="621" y="337" width="5" height="17" fill="#000"/>
<rect x="631" y="342" width="1" height="24" fill="#000"/>
<rect x="629" y="353" width="5" height="2" fill="#000"/>
<rect x="639" y="343" width="1" height="10" fill="#000"/>
<rect x="637" y="346" width="5" height="6" fill="#000"/>
<rect x="638" y="347" width="3" height="4" fill="#fff"/>
<rect x="647" y="336" width="1" height="21" fill="#000"/>
<rect x="645" y="336" width="5" height="11" fill="#000"/>
<rect x="646" y="337" width="3" height="9" fill="#fff"/>
<rect x="655" y="336" width="1" height="20" fill="#000"/>
<rect x="653" y="336" width="5" height="4" fill="#000"/>
<rect x="663" y="332" width="1" height="23" fill="#000"/>
<rect x="661" y="339" width="5" height="8" fill="#000"/>
<rect x="671" y="313" width="1" height="39" fill="#000"/>
<rect x="669" y="335" width="5" height="13" fill="#000"/>
<rect x="670" y="336" width="3" height="11" fill="#fff"/>
<rect x="679" y="311" width="1" height="26" fill="#000"/>
<rect x="677" y="313" width="5" height="23" fill="#000"/>
<rect x="678" y="314" width="3" height="21" fill="#fff"/>
<rect x="687" y="310" width="1" height="8" fill="#000"/>
<rect x="685" y="313" width="5" height="2" fill="#000"/>
<rect x="695" y="313" width="1" height="13" fill="#000"/>
<rect x="693" y="313" width="5" height="10" fill="#000"/>
<rect x="703" y="315" width="1" height="9" fill="#000"/>
<rect x="701" y="321" width="5" height="2" fill="#000"/>
<rect x="711" y="300" width="1" height="23" fill="#000"/>
<rect x="709" y="301" width="5" height="21" fill="#000"/>
<rect x="710" y="302" width="3" height="19" fill="#fff"/>
<rect x="719" y="296" width="1" height="41" fill="#000"/>
<rect x="717" y="302" width="5" height="26" fill="#000"/>
<rect x="727" y="313" width="1" height="19" fill="#000"/>
<rect x="725" y="327" width="5" height="2" fill="#000"/>
<rect x="735" y="317" width="1" height="14" fill="#000"/>
<rect x="733" y="321" width="5" height="8" fill="#000"/>
<rect x="734" y="322" width="3" height="6" fill="#fff"/>
<rect x="743" y="317" width="1" height="14" fill="#000"/>
<rect x="741" y="320" width="5" height="2" fill="#000"/>
<rect x="751" y="318" width="1" height="18" fill="#000"/>
<rect x="749" y="320" width="5" height="7" fill="#000"/>
<rect x="759" y="314" width="1" height="28" fill="#000"/>
<rect x="757" y="316" width="5" height="12" fill="#000"/>
<rect x="758" y="317" width="3" height="10" fill="#fff"/>
<rect x="767" y="264" width="1" height="66" fill="#000"/>
<rect x="765" y="276" width="5" height="40" fill="#000"/>
<rect x="766" y="277" width="3" height="38" fill="#fff"/>
<rect x="775" y="270" width="1" height="21" fill="#000"/>
<rect x="773" y="273" width="5" height="4" fill="#000"/>
<rect x="774" y="274" width="3" height="2" fill="#fff"/>
<rect x="783" y="267" width="1" height="14" fill="#000"/>
<rect x="781" y="267" width="5" height="6" fill="#000"/>
<rect x="782" y="268" width="3" height="4" fill="#fff"/>
<rect x="791" y="259" width="1" height="17" fill="#000"/>
<rect x="789" y="267" width="5" height="9" fill="#000"/>
<rect x="799" y="272" width="1" height="23" fill="#000"/>
<rect x="797" y="275" width="5" height="13" fill="#000"/>
<rect x="807" y="271" width="1" height="32" fill="#000"/>
<rect x="805" y="275" width="5" height="13" fill="#000"/>
<rect x="806" y="276" width="3" height="11" fill="#fff"/>
<rect x="815" y="245" width="1" height="38" fill="#000"/>
<rect x="813" y="265" width="5" height="10" fill="#000"/>
<rect x="814" y="266" width="3" height="8" fill="#fff"/>
<rect x="823" y="256" width="1" height="26" fill="#000"/>
<rect x="821" y="256" width="5" height="10" fill="#000"/>
<rect x="822" y="257" width="3" height="8" fill="#fff"/>
<rect x="831" y="253" width="1" height="22" fill="#000"/>
<rect x="829" y="256" width="5" height="11" fill="#000"/>
<rect x="839" y="258" width="1" height="11" fill="#000"/>
<rect x="837" y="266" width="5" height="1" fill="#000"/>
<rect x="847" y="258" width="1" height="12" fill="#000"/>
<rect x="845" y="258" width="5" height="9" fill="#000"/>
<rect x="846" y="259" width="3" height="7" fill="#fff"/>
<rect x="855" y="247" width="1" height="38" fill="#000"/>
<rect x="853" y="258" width="5" height="27" fill="#000"/>
<rect x="863" y="221" width="1" height="73" fill="#000"/>
<rect x="861" y="226" width="5" height="59" fill="#000"/>
<rect x="862" y="227" width="3" height="57" fill="#fff"/>
<rect x="871" y="225" width="1" height="16" fill="#000"/>
<rect x="869" y="226" width="5" height="11" fill="#000"/>
<rect x="879" y="236" width="1" height="12" fill="#000"/>
<rect x="877" y="239" width="5" height="8" fill="#000"/>
<rect x="887" y="239" width="1" height="30" fill="#000"/>
<rect x="885" y="246" width="5" height="19" fill="#000"/>
<rect x="895" y="257" width="1" height="12" fill="#000"/>
<rect x="893" y="259" width="5" height="5" fill="#000"/>
<rect x="894" y="260" width="3" height="3" fill="#fff"/>
<rect x="903" y="240" width="1" height="22" fill="#000"/>
<rect x="901" y="255" width="5" height="6" fill="#000"/>
<rect x="902" y="256" width="3" height="4" fill="#fff"/>
<rect x="911" y="254" width="1" height="69" fill="#000"/>
<rect x="909" y="254" width="5" height="56" fill="#000"/>
<rect x="919" y="276" width="1" height="42" fill="#000"/>
<rect x="917" y="277" width="5" height="33" fill="#000"/>
<rect x="918" y="278" width="3" height="31" fill="#fff"/>
<rect x="927" y="276" width="1" height="16" fill="#000"/>
<rect x="925" y="277" width="5" height="3" fill="#000"/>
<rect x="935" y="277" width="1" height="19" fill="#000"/>
<rect x="933" y="279" width="5" height="16" fill="#000"/>
<rect x="943" y="273" width="1" height="26" fill="#000"/>
<rect x="941" y="273" width="5" height="22" fill="#000"/>
<rect x="942" y="274" width="3" height="20" fill="#fff"/>
<rect x="951" y="251" width="1" height="27" fill="#000"/>
<rect x="949" y="267" width="5" height="8" fill="#000"/>
<rect x="950" y="268" width="3" height="6" fill="#fff"/>
<rect x="959" y="215" width="1" height="68" fill="#000"/>
<rect x="957" y="219" width="5" height="49" fill="#000"/>
<rect x="958" y="220" width="3" height="47" fill="#fff"/>
<rect x="967" y="218" width="1" height="29" fill="#000"/>
<rect x="965" y="218" width="5" height="17" fill="#000"/>
<rect x="975" y="232" width="1" height="13" fill="#000"/>
<rect x="973" y="234" width="5" height="5" fill="#000"/>
<rect x="983" y="230" width="1" height="12" fill="#000"/>
<rect x="981" y="236" width="5" height="3" fill="#000"/>
<rect x="982" y="237" width="3" height="1" fill="#fff"/>
<rect x="991" y="229" width="1" height="17" fill="#000"/>
<rect x="989" y="233" width="5" height="4" fill="#000"/>
<rect x="990" y="234" width="3" height="2" fill="#fff"/>
<rect x="999" y="218" width="1" height="23" fill="#000"/>
<rect x="997" y="229" width="5" height="5" fill="#000"/>
<rect x="998" y="230" width="3" height="3" fill="#fff"/>
<rect x="1007" y="207" width="1" height="31" fill="#000"/>
<rect x="1005" y="208" width="5" height="22" fill="#000"/>
<rect x="1006" y="209" width="3" height="20" fill="#fff"/>
<rect x="1015" y="180" width="1" height="36" fill="#000"/>
<rect x="1013" y="209" width="5" height="4" fill="#000"/>
<rect x="1023" y="213" width="1" height="11" fill="#000"/>
<rect x="1021" y="213" width="5" height="6" fill="#000"/>
<rect x="1031" y="217" width="1" height="21" fill="#000"/>
<rect x="1029" y="218" width="5" height="14" fill="#000"/>
<rect x="1039" y="231" width="1" height="39" fill="#000"/>
<rect x="1037" y="231" width="5" height="35" fill="#000"/>
<rect x="1047" y="225" width="1" height="48" fill="#000"/>
<rect x="1045" y="233" width="5" height="32" fill="#000"/>
<rect x="1046" y="234" width="3" height="30" fill="#fff"/>
<rect x="1055" y="214" width="1" height="37" fill="#000"/>
<rect x="1053" y="232" width="5" height="10" fill="#000"/>
<rect x="1063" y="229" width="1" height="17" fill="#000"/>
<rect x="1061" y="241" width="5" height="2" fill="#000"/>
<rect x="1071" y="232" width="1" height="11" fill="#000"/>
<rect x="1069" y="236" width="5" height="7" fill="#000"/>
<rect x="1070" y="237" width="3" height="5" fill="#fff"/>
<rect x="1079" y="219" width="1" height="21" fill="#000"/>
<rect x="1077" y="223" width="5" height="14" fill="#000"/>
<rect x="1078" y="224" width="3" height="12" fill="#fff"/>
<rect x="1087" y="223" width="1" height="15" fill="#000"/>
<rect x="1085" y="223" width="5" height="8" fill="#000"/>
<rect x="1095" y="215" width="1" height="27" fill="#000"/>
<rect x="1093" y="221" width="5" height="11" fill="#000"/>
<rect x="1094" y="222" width="3" height="9" fill="#fff"/>
<rect x="1103" y="201" width="1" height="39" fill="#000"/>
<rect x="1101" y="202" width="5" height="19" fill="#000"/>
<rect x="1102" y="203" width="3" height="17" fill="#fff"/>
<rect x="1111" y="182" width="1" height="31" fill="#000"/>
<rect x="1109" y="182" width="5" height="22" fill="#000"/>
<rect x="1110" y="183" width="3" height="20" fill="#fff"/>
<rect x="1119" y="185" width="1" height="16" fill="#000"/>
<rect x="1117" y="186" width="5" height="15" fill="#000"/>
<rect x="1118" y="187" width="3" height="13" fill="#fff"/>
<rect x="1127" y="181" width="1" height="15" fill="#000"/>
<rect x="1125" y="187" width="5" height="7" fill="#000"/>
<rect x="1135" y="184" width="1" height="14" fill="#000"/>
<rect x="1133" y="191" width="5" height="3" fill="#000"/>
<rect x="1134" y="192" width="3" height="1" fill="#fff"/>
<rect x="1143" y="176" width="1" height="26" fill="#000"/>
<rect x="1141" y="191" width="5" height="4" fill="#000"/>
<rect x="1151" y="188" width="1" height="50" fill="#000"/>
<rect x="1149" y="194" width="5" height="19" fill="#000"/>
<rect x="1159" y="201" width="1" height="18" fill="#000"/>
<rect x="1157" y="204" width="5" height="9" fill="#000"/>
<rect x="1158" y="205" width="3" height="7" fill="#fff"/>
<rect x="1167" y="195" width="1" height="12" fill="#000"/>
<rect x="1165" y="196" width="5" height="9" fill="#000"/>
<rect x="1166" y="197" width="3" height="7" fill="#fff"/>
<rect x="1175" y="181" width="1" height="18" fill="#000"/>
<rect x="1173" y="185" width="5" height="13" fill="#000"/>
<rect x="1174" y="186" width="3" height="11" fill="#fff"/>
<rect x="1183" y="179" width="1" height="18" fill="#000"/>
<rect x="1181" y="181" width="5" height="5" fill="#000"/>
<rect x="1182" y="182" width="3" height="3" fill="#fff"/>
<rect x="1191" y="163" width="1" height="30" fill="#000"/>
<rect x="1189" y="181" width="5" height="12" fill="#000"/>
<rect x="1199" y="175" width="1" height="38" fill="#000"/>
<rect x="1197" y="175" width="5" height="17" fill="#000"/>
<rect x="1198" y="176" width="3" height="15" fill="#fff"/>
<rect x="1207" y="156" width="1" height="20" fill="#000"/>
<rect x="1205" y="156" width="5" height="20" fill="#000"/>
<rect x="1206" y="157" width="3" height="18" fill="#fff"/>
<rect x="1215" y="148" width="1" height="11" fill="#000"/>
<rect x="1213" y="152" width="5" height="5" fill="#000"/>
<rect x="1214" y="153" width="3" height="3" fill="#fff"/>
<rect x="1223" y="141" width="1" height="15" fill="#000"/>
<rect x="1221" y="142" width="5" height="11" fill="#000"/>
<rect x="1222" y="143" width="3" height="9" fill="#fff"/>
<rect x="1231" y="142" width="1" height="16" fill="#000"/>
<rect x="1229" y="142" width="5" height="13" fill="#000"/>
<rect x="1239" y="145" width="1" height="18" fill="#000"/>
<rect x="1237" y="150" width="5" height="4" fill="#000"/>
<rect x="1238" y="151" width="3" height="2" fill="#fff"/>
<rect x="1247" y="98" width="1" height="53" fill="#000"/>
<rect x="1245" y="105" width="5" height="46" fill="#000"/>
<rect x="1246" y="106" width="3" height="44" fill="#fff"/>
<rect x="1255" y="83" width="1" height="26" fill="#000"/>
<rect x="1253" y="84" width="5" height="23" fill="#000"/>
<rect x="1254" y="85" width="3" height="21" fill="#fff"/>
<rect x="1263" y="83" width="1" height="16" fill="#000"/>
<rect x="1261" y="84" width="5" height="6" fill="#000"/>
<rect x="1271" y="79" width="1" height="13" fill="#000"/>
<rect x="1269" y="85" width="5" height="6" fill="#000"/>
<rect x="1270" y="86" width="3" height="4" fill="#fff"/>
<rect x="1279" y="68" width="1" height="23" fill="#000"/>
<rect x="1277" y="68" width="5" height="18" fill="#000"/>
<rect x="1278" y="69" width="3" height="16" fill="#fff"/>
<rect x="1287" y="53" width="1" height="22" fill="#000"/>
<rect x="1285" y="68" width="5" height="4" fill="#000"/>
<rect x="1295" y="54" width="1" height="30" fill="#000"/>
<rect x="1293" y="66" width="5" height="6" fill="#000"/>
<rect x="1294" y="67" width="3" height="4" fill="#fff"/>
<rect x="1303" y="61" width="1" height="27" fill="#000"/>
<rect x="1301" y="65" width="5" height="14" fill="#000"/>
<rect x="1311" y="77" width="1" height="18" fill="#000"/>
<rect x="1309" y="77" width="5" height="7" fill="#000"/>
<rect x="1319" y="70" width="1" height="21" fill="#000"/>
<rect x="1317" y="72" width="5" height="13" fill="#000"/>
<rect x="1318" y="73" width="3" height="11" fill="#fff"/>
<rect x="1327" y="63" width="1" height="19" fill="#000"/>
<rect x="1325" y="72" width="5" height="3" fill="#000"/>
<rect x="1335" y="58" width="1" height="21" fill="#000"/>
<rect x="1333" y="73" width="5" height="6" fill="#000"/>
<rect x="1343" y="72" width="1" height="46" fill="#000"/>
<rect x="1341" y="79" width="5" height="31" fill="#000"/>
<rect x="1351" y="104" width="1" height="31" fill="#000"/>
<rect x="1349" y="109" width="5" height="6" fill="#000"/>
<rect x="1359" y="115" width="1" height="10" fill="#000"/>
<rect x="1357" y="117" width="5" height="2" fill="#000"/>
<rect x="1367" y="110" width="1" height="16" fill="#000"/>
<rect x="1365" y="113" width="5" height="5" fill="#000"/>
<rect x="1366" y="114" width="3" height="3" fill="#fff"/>
<rect x="1375" y="107" width="1" height="14" fill="#000"/>
<rect x="1373" y="108" width="5" height="6" fill="#000"/>
<rect x="1374" y="109" width="3" height="4" fill="#fff"/>
<rect x="1383" y="103" width="1" height="29" fill="#000"/>
<rect x="1381" y="108" width="5" height="20" fill="#000"/>
<rect x="1391" y="124" width="1" height="24" fill="#000"/>
<rect x="1389" y="127" width="5" height="12" fill="#000"/>
<rect x="1399" y="131" width="1" height="14" fill="#000"/>
<rect x="1397" y="138" width="5" height="5" fill="#000"/>
<rect x="1407" y="139" width="1" height="7" fill="#000"/>
<rect x="1405" y="139" width="5" height="3" fill="#000"/>
<rect x="1406" y="140" width="3" height="1" fill="#fff"/>
<rect x="1415" y="127" width="1" height="35" fill="#000"/>
<rect x="1413" y="138" width="5" height="18" fill="#000"/>
<rect x="1423" y="137" width="1" height="19" fill="#000"/>
<rect x="1421" y="142" width="5" height="14" fill="#000"/>
<rect x="1422" y="143" width="3" height="12" fill="#fff"/>
<rect x="1431" y="135" width="1" height="43" fill="#000"/>
<rect x="1429" y="142" width="5" height="36" fill="#000"/>
<rect x="1439" y="176" width="1" height="28" fill="#000"/>
<rect x="1437" y="177" width="5" height="18" fill="#000"/>
<rect x="1447" y="176" width="1" height="27" fill="#000"/>
<rect x="1445" y="182" width="5" height="13" fill="#000"/>
<rect x="1446" y="183" width="3" height="11" fill="#fff"/>
<rect x="1455" y="180" width="1" height="13" fill="#000"/>
<rect x="1453" y="181" width="5" height="4" fill="#000"/>
<rect x="1381" y="164" width="135" height="5" fill="#00ff00"/>
</g>
<rect x="1645.5" y="115.5" width="4" height="4" fill="#fff" stroke="#ff4500"/>
<rect x="1652" y="111" width="41" height="11" fill="#ff4500"/>
<text transform="translate(1656,119.5) scale(0.93,1)" font-size="10" fill="#fff" text-anchor="start" font-weight="normal" stroke="#fff" stroke-width="0.2">1.36720</text>
<rect x="1645.5" y="142.5" width="4" height="4" fill="#fff" stroke="#ff0000"/>
<rect x="1652" y="138" width="41" height="11" fill="#ff0000"/>
<text transform="translate(1656,146.5) scale(0.93,1)" font-size="10" fill="#fff" text-anchor="start" font-weight="normal" stroke="#fff" stroke-width="0.2">1.36401</text>
<rect x="1645.5" y="165.5" width="4" height="4" fill="#fff" stroke="#32cd32"/>
<rect x="1652" y="161" width="41" height="11" fill="#32cd32"/>
<text transform="translate(1656,169.5) scale(0.93,1)" font-size="10" fill="#fff" text-anchor="start" font-weight="normal" stroke="#fff" stroke-width="0.2">1.36130</text>
<rect x="1652" y="179" width="41" height="11" fill="#000000"/>
<text transform="translate(1656,187.5) scale(0.93,1)" font-size="10" fill="#fff" text-anchor="start" font-weight="normal" stroke="#fff" stroke-width="0.2">1.35934</text>
<rect x="1645.5" y="206.5" width="4" height="4" fill="#fff" stroke="#0000ff"/>
<rect x="1652" y="202" width="41" height="11" fill="#0000ff"/>
<text transform="translate(1656,210.5) scale(0.93,1)" font-size="10" fill="#fff" text-anchor="start" font-weight="normal" stroke="#fff" stroke-width="0.2">1.35646</text>
<rect x="1645.5" y="235.5" width="4" height="4" fill="#fff" stroke="#0000ff"/>
<rect x="1652" y="231" width="41" height="11" fill="#0000ff"/>
<text transform="translate(1656,239.5) scale(0.93,1)" font-size="10" fill="#fff" text-anchor="start" font-weight="normal" stroke="#fff" stroke-width="0.2">1.35304</text>
<rect x="1277" y="54" width="10" height="1" fill="#ff0000"/>
<rect x="1216.5" y="45.5" width="61" height="18" fill="#fff" stroke="#ff0000"/>
<text x="1218.5" y="61" font-size="17" fill="#ff0000" text-anchor="start" font-weight="normal" letter-spacing="-0.5" stroke="#fff" stroke-width="0.2">1.37463</text>
<rect x="565" y="317" width="10" height="1" fill="#ff0000"/>
<rect x="504.5" y="308.5" width="61" height="18" fill="#fff" stroke="#ff0000"/>
<text x="506.5" y="324" font-size="17" fill="#ff0000" text-anchor="start" font-weight="normal" letter-spacing="-0.5" stroke="#fff" stroke-width="0.2">1.34356</text>
<rect x="1280" y="167" width="8" height="1" fill="#ff0000"/>
<rect x="1287.5" y="165.5" width="3" height="3" fill="#fff" stroke="#ff0000"/>
<rect x="1290.5" y="155.5" width="73" height="24" fill="#fff" stroke="#ff0000"/>
<text transform="translate(1291.3,175.8) scale(0.855,1)" font-size="23" fill="#ff0000" text-anchor="start" font-weight="normal" letter-spacing="0" stroke="#fff" stroke-width="0.2">1.36130</text>
<rect x="1430.5" y="201.5" width="2" height="3" fill="#fff" stroke="#ff0000"/>
<rect x="1433" y="203" width="7" height="1" fill="#ff0000"/>
<rect x="1368.5" y="194.5" width="61" height="18" fill="#fff" stroke="#ff0000"/>
<text x="1370.5" y="210" font-size="17" fill="#ff0000" text-anchor="start" font-weight="normal" letter-spacing="-0.5" stroke="#fff" stroke-width="0.2">1.35705</text>
<line x1="1286" y1="59.5" x2="1458.3" y2="190.8" stroke="#ff0000" stroke-width="3"/>
<polygon points="1467,197.5 1455.3,194.6 1461.2,187.0" fill="#ff0000"/>
<polygon points="1462,28 1471,28 1466.5,32" fill="#a8a8a8"/>
<text transform="translate(6,39) scale(0.94,1)" font-size="10" fill="#000" text-anchor="start" font-weight="normal" stroke="#000" stroke-width="0.2">GBPUSD-,H4&#160;&#160;&#160;1.35962 1.35982 1.35835 1.35934</text>
<rect x="0" y="36" width="2" height="1" fill="#000"/>
<rect x="0" y="47" width="46" height="24" fill="url(#gup)"/>
<rect x="0" y="47" width="46" height="1" fill="#1a1ad0"/>
<rect x="0" y="70" width="42" height="1" fill="#1010a0"/>
<text x="6.5" y="62.5" font-size="12" fill="#fff" text-anchor="start" font-weight="normal" letter-spacing="-0.9">SELL</text>
<rect x="0" y="71" width="103" height="33" fill="url(#gdn)"/>
<rect x="102" y="71" width="1" height="33" fill="#0000a0"/>
<rect x="0" y="103" width="103" height="1" fill="#0000a0"/>
<text x="14.5" y="98.5" font-size="12" fill="#fff" text-anchor="start" font-weight="bold" >1.35</text>
<text transform="translate(41.8,99) scale(0.9,1)" font-size="35" fill="#fff" text-anchor="start" font-weight="normal" stroke="url(#gdn2)" stroke-width="0.6">93</text>
<text x="80.5" y="83" font-size="12" fill="#fff" text-anchor="start" font-weight="bold" >4</text>
<rect x="48.5" y="47.5" width="112" height="21" fill="#fff" stroke="#a0a0a0"/>
<rect x="49.5" y="48.5" width="19" height="19" fill="url(#gbtn)" stroke="#b8b8b8"/>
<path d="M55.5,57 h6 l-3,3 z" fill="#5060c0"/>
<rect x="137.5" y="48.5" width="21" height="19" fill="url(#gbtn)" stroke="#b8b8b8"/>
<path d="M145,59.5 h6 l-3,-3 z" fill="#5060c0"/>
<text x="133.5" y="62" font-size="12.5" fill="#000" text-anchor="end" font-weight="normal" >1.00</text>
<rect x="161" y="47" width="52" height="24" fill="url(#gup)"/>
<rect x="161" y="47" width="52" height="1" fill="#1a1ad0"/>
<rect x="161" y="47" width="1" height="24" fill="#1a1ad0"/>
<rect x="212" y="47" width="1" height="24" fill="#1a1ad0"/>
<rect x="165" y="70" width="44" height="1" fill="#7070ff"/>
<text x="174.5" y="62.5" font-size="12" fill="#fff" text-anchor="start" font-weight="normal" letter-spacing="-0.6">BUY</text>
<rect x="105" y="71" width="108" height="33" fill="url(#gdn)"/>
<rect x="212" y="71" width="1" height="33" fill="#0000a0"/>
<rect x="105" y="103" width="108" height="1" fill="#0000a0"/>
<rect x="105" y="71" width="1" height="33" fill="#0000a0"/>
<text x="124.5" y="98.5" font-size="12" fill="#fff" text-anchor="start" font-weight="bold" >1.35</text>
<text transform="translate(152.8,99) scale(0.9,1)" font-size="35" fill="#fff" text-anchor="start" font-weight="normal" stroke="url(#gdn2)" stroke-width="0.6">95</text>
<text x="191.5" y="83" font-size="12" fill="#fff" text-anchor="start" font-weight="bold" >9</text>
<text transform="translate(-2.5,576) scale(0.93,1)" font-size="10" fill="#000" text-anchor="start" font-weight="normal" stroke="#000" stroke-width="0.2">MACD(12,26,9) -0.001483 -0.000145</text>
<text transform="translate(1654,575) scale(0.93,1)" font-size="10" fill="#000" text-anchor="start" font-weight="normal" stroke="#000" stroke-width="0.2">0.004899</text>
<rect x="1651" y="566" width="2" height="1" fill="#000"/>
<text transform="translate(1654,715) scale(0.93,1)" font-size="10" fill="#000" text-anchor="start" font-weight="normal" stroke="#000" stroke-width="0.2">0.00</text>
<rect x="1651" y="711" width="2" height="1" fill="#000"/>
<text transform="translate(1654,780) scale(0.93,1)" font-size="10" fill="#000" text-anchor="start" font-weight="normal" stroke="#000" stroke-width="0.2">-0.002382</text>
<rect x="1651" y="782" width="2" height="1" fill="#000"/>
<g clip-path="url(#cd)">
<rect x="7" y="711" width="1" height="40" fill="#c0c0c0"/>
<rect x="15" y="711" width="1" height="40" fill="#c0c0c0"/>
<rect x="23" y="711" width="1" height="35" fill="#c0c0c0"/>
<rect x="31" y="711" width="1" height="35" fill="#c0c0c0"/>
<rect x="39" y="711" width="1" height="41" fill="#c0c0c0"/>
<rect x="47" y="711" width="1" height="47" fill="#c0c0c0"/>
<rect x="55" y="711" width="1" height="45" fill="#c0c0c0"/>
<rect x="63" y="711" width="1" height="50" fill="#c0c0c0"/>
<rect x="71" y="711" width="1" height="53" fill="#c0c0c0"/>
<rect x="79" y="711" width="1" height="56" fill="#c0c0c0"/>
<rect x="87" y="711" width="1" height="61" fill="#c0c0c0"/>
<rect x="95" y="711" width="1" height="60" fill="#c0c0c0"/>
<rect x="103" y="711" width="1" height="59" fill="#c0c0c0"/>
<rect x="111" y="711" width="1" height="53" fill="#c0c0c0"/>
<rect x="119" y="711" width="1" height="46" fill="#c0c0c0"/>
<rect x="127" y="711" width="1" height="44" fill="#c0c0c0"/>
<rect x="135" y="711" width="1" height="45" fill="#c0c0c0"/>
<rect x="143" y="711" width="1" height="39" fill="#c0c0c0"/>
<rect x="151" y="711" width="1" height="27" fill="#c0c0c0"/>
<rect x="159" y="711" width="1" height="17" fill="#c0c0c0"/>
<rect x="167" y="711" width="1" height="11" fill="#c0c0c0"/>
<rect x="175" y="711" width="1" height="10" fill="#c0c0c0"/>
<rect x="191" y="711" width="1" height="4" fill="#c0c0c0"/>
<rect x="199" y="711" width="1" height="8" fill="#c0c0c0"/>
<rect x="207" y="711" width="1" height="12" fill="#c0c0c0"/>
<rect x="215" y="711" width="1" height="19" fill="#c0c0c0"/>
<rect x="223" y="711" width="1" height="24" fill="#c0c0c0"/>
<rect x="231" y="711" width="1" height="14" fill="#c0c0c0"/>
<rect x="239" y="711" width="1" height="12" fill="#c0c0c0"/>
<rect x="247" y="711" width="1" height="13" fill="#c0c0c0"/>
<rect x="255" y="711" width="1" height="10" fill="#c0c0c0"/>
<rect x="263" y="711" width="1" height="9" fill="#c0c0c0"/>
<rect x="271" y="711" width="1" height="3" fill="#c0c0c0"/>
<rect x="279" y="707" width="1" height="5" fill="#c0c0c0"/>
<rect x="303" y="704" width="1" height="8" fill="#c0c0c0"/>
<rect x="311" y="701" width="1" height="11" fill="#c0c0c0"/>
<rect x="319" y="696" width="1" height="16" fill="#c0c0c0"/>
<rect x="327" y="690" width="1" height="22" fill="#c0c0c0"/>
<rect x="335" y="672" width="1" height="40" fill="#c0c0c0"/>
<rect x="343" y="663" width="1" height="49" fill="#c0c0c0"/>
<rect x="351" y="654" width="1" height="58" fill="#c0c0c0"/>
<rect x="359" y="648" width="1" height="64" fill="#c0c0c0"/>
<rect x="367" y="647" width="1" height="65" fill="#c0c0c0"/>
<rect x="375" y="652" width="1" height="60" fill="#c0c0c0"/>
<rect x="383" y="662" width="1" height="50" fill="#c0c0c0"/>
<rect x="391" y="674" width="1" height="38" fill="#c0c0c0"/>
<rect x="399" y="689" width="1" height="23" fill="#c0c0c0"/>
<rect x="407" y="701" width="1" height="11" fill="#c0c0c0"/>
<rect x="423" y="711" width="1" height="14" fill="#c0c0c0"/>
<rect x="431" y="711" width="1" height="20" fill="#c0c0c0"/>
<rect x="439" y="711" width="1" height="28" fill="#c0c0c0"/>
<rect x="447" y="711" width="1" height="33" fill="#c0c0c0"/>
<rect x="455" y="711" width="1" height="35" fill="#c0c0c0"/>
<rect x="463" y="711" width="1" height="35" fill="#c0c0c0"/>
<rect x="471" y="711" width="1" height="29" fill="#c0c0c0"/>
<rect x="479" y="711" width="1" height="26" fill="#c0c0c0"/>
<rect x="487" y="711" width="1" height="16" fill="#c0c0c0"/>
<rect x="495" y="711" width="1" height="8" fill="#c0c0c0"/>
<rect x="503" y="711" width="1" height="4" fill="#c0c0c0"/>
<rect x="511" y="708" width="1" height="4" fill="#c0c0c0"/>
<rect x="519" y="693" width="1" height="19" fill="#c0c0c0"/>
<rect x="527" y="674" width="1" height="38" fill="#c0c0c0"/>
<rect x="535" y="656" width="1" height="56" fill="#c0c0c0"/>
<rect x="543" y="645" width="1" height="67" fill="#c0c0c0"/>
<rect x="551" y="637" width="1" height="75" fill="#c0c0c0"/>
<rect x="559" y="627" width="1" height="85" fill="#c0c0c0"/>
<rect x="567" y="605" width="1" height="107" fill="#c0c0c0"/>
<rect x="575" y="594" width="1" height="118" fill="#c0c0c0"/>
<rect x="583" y="585" width="1" height="127" fill="#c0c0c0"/>
<rect x="591" y="583" width="1" height="129" fill="#c0c0c0"/>
<rect x="599" y="582" width="1" height="130" fill="#c0c0c0"/>
<rect x="607" y="584" width="1" height="128" fill="#c0c0c0"/>
<rect x="615" y="584" width="1" height="128" fill="#c0c0c0"/>
<rect x="623" y="590" width="1" height="122" fill="#c0c0c0"/>
<rect x="631" y="597" width="1" height="115" fill="#c0c0c0"/>
<rect x="639" y="601" width="1" height="111" fill="#c0c0c0"/>
<rect x="647" y="603" width="1" height="109" fill="#c0c0c0"/>
<rect x="655" y="606" width="1" height="106" fill="#c0c0c0"/>
<rect x="663" y="612" width="1" height="100" fill="#c0c0c0"/>
<rect x="671" y="615" width="1" height="97" fill="#c0c0c0"/>
<rect x="679" y="612" width="1" height="100" fill="#c0c0c0"/>
<rect x="687" y="611" width="1" height="101" fill="#c0c0c0"/>
<rect x="695" y="614" width="1" height="98" fill="#c0c0c0"/>
<rect x="703" y="617" width="1" height="95" fill="#c0c0c0"/>
<rect x="711" y="615" width="1" height="97" fill="#c0c0c0"/>
<rect x="719" y="621" width="1" height="91" fill="#c0c0c0"/>
<rect x="727" y="628" width="1" height="84" fill="#c0c0c0"/>
<rect x="735" y="632" width="1" height="80" fill="#c0c0c0"/>
<rect x="743" y="636" width="1" height="76" fill="#c0c0c0"/>
<rect x="751" y="642" width="1" height="70" fill="#c0c0c0"/>
<rect x="759" y="644" width="1" height="68" fill="#c0c0c0"/>
<rect x="767" y="635" width="1" height="77" fill="#c0c0c0"/>
<rect x="775" y="629" width="1" height="83" fill="#c0c0c0"/>
<rect x="783" y="622" width="1" height="90" fill="#c0c0c0"/>
<rect x="791" y="621" width="1" height="91" fill="#c0c0c0"/>
<rect x="799" y="624" width="1" height="88" fill="#c0c0c0"/>
<rect x="807" y="624" width="1" height="88" fill="#c0c0c0"/>
<rect x="815" y="623" width="1" height="89" fill="#c0c0c0"/>
<rect x="823" y="620" width="1" height="92" fill="#c0c0c0"/>
<rect x="831" y="622" width="1" height="90" fill="#c0c0c0"/>
<rect x="839" y="624" width="1" height="88" fill="#c0c0c0"/>
<rect x="847" y="625" width="1" height="87" fill="#c0c0c0"/>
<rect x="855" y="634" width="1" height="78" fill="#c0c0c0"/>
<rect x="863" y="624" width="1" height="88" fill="#c0c0c0"/>
<rect x="871" y="621" width="1" height="91" fill="#c0c0c0"/>
<rect x="879" y="623" width="1" height="89" fill="#c0c0c0"/>
<rect x="887" y="631" width="1" height="81" fill="#c0c0c0"/>
<rect x="895" y="636" width="1" height="76" fill="#c0c0c0"/>
<rect x="903" y="640" width="1" height="72" fill="#c0c0c0"/>
<rect x="911" y="659" width="1" height="53" fill="#c0c0c0"/>
<rect x="919" y="666" width="1" height="46" fill="#c0c0c0"/>
<rect x="927" y="672" width="1" height="40" fill="#c0c0c0"/>
<rect x="935" y="681" width="1" height="31" fill="#c0c0c0"/>
<rect x="943" y="684" width="1" height="28" fill="#c0c0c0"/>
<rect x="951" y="684" width="1" height="28" fill="#c0c0c0"/>
<rect x="959" y="671" width="1" height="41" fill="#c0c0c0"/>
<rect x="967" y="665" width="1" height="47" fill="#c0c0c0"/>
<rect x="975" y="663" width="1" height="49" fill="#c0c0c0"/>
<rect x="983" y="660" width="1" height="52" fill="#c0c0c0"/>
<rect x="991" y="659" width="1" height="53" fill="#c0c0c0"/>
<rect x="999" y="657" width="1" height="55" fill="#c0c0c0"/>
<rect x="1007" y="650" width="1" height="62" fill="#c0c0c0"/>
<rect x="1015" y="646" width="1" height="66" fill="#c0c0c0"/>
<rect x="1023" y="646" width="1" height="66" fill="#c0c0c0"/>
<rect x="1031" y="650" width="1" height="62" fill="#c0c0c0"/>
<rect x="1039" y="664" width="1" height="48" fill="#c0c0c0"/>
<rect x="1047" y="666" width="1" height="46" fill="#c0c0c0"/>
<rect x="1055" y="670" width="1" height="42" fill="#c0c0c0"/>
<rect x="1063" y="674" width="1" height="38" fill="#c0c0c0"/>
<rect x="1071" y="677" width="1" height="35" fill="#c0c0c0"/>
<rect x="1079" y="675" width="1" height="37" fill="#c0c0c0"/>
<rect x="1087" y="676" width="1" height="36" fill="#c0c0c0"/>
<rect x="1095" y="675" width="1" height="37" fill="#c0c0c0"/>
<rect x="1103" y="669" width="1" height="43" fill="#c0c0c0"/>
<rect x="1111" y="659" width="1" height="53" fill="#c0c0c0"/>
<rect x="1119" y="654" width="1" height="58" fill="#c0c0c0"/>
<rect x="1127" y="652" width="1" height="60" fill="#c0c0c0"/>
<rect x="1135" y="650" width="1" height="62" fill="#c0c0c0"/>
<rect x="1143" y="651" width="1" height="61" fill="#c0c0c0"/>
<rect x="1151" y="657" width="1" height="55" fill="#c0c0c0"/>
<rect x="1159" y="660" width="1" height="52" fill="#c0c0c0"/>
<rect x="1167" y="661" width="1" height="51" fill="#c0c0c0"/>
<rect x="1175" y="659" width="1" height="53" fill="#c0c0c0"/>
<rect x="1183" y="657" width="1" height="55" fill="#c0c0c0"/>
<rect x="1191" y="659" width="1" height="53" fill="#c0c0c0"/>
<rect x="1199" y="657" width="1" height="55" fill="#c0c0c0"/>
<rect x="1207" y="650" width="1" height="62" fill="#c0c0c0"/>
<rect x="1215" y="644" width="1" height="68" fill="#c0c0c0"/>
<rect x="1223" y="638" width="1" height="74" fill="#c0c0c0"/>
<rect x="1231" y="637" width="1" height="75" fill="#c0c0c0"/>
<rect x="1239" y="636" width="1" height="76" fill="#c0c0c0"/>
<rect x="1247" y="624" width="1" height="88" fill="#c0c0c0"/>
<rect x="1255" y="609" width="1" height="103" fill="#c0c0c0"/>
<rect x="1263" y="600" width="1" height="112" fill="#c0c0c0"/>
<rect x="1271" y="594" width="1" height="118" fill="#c0c0c0"/>
<rect x="1279" y="585" width="1" height="127" fill="#c0c0c0"/>
<rect x="1287" y="580" width="1" height="132" fill="#c0c0c0"/>
<rect x="1295" y="576" width="1" height="136" fill="#c0c0c0"/>
<rect x="1303" y="578" width="1" height="134" fill="#c0c0c0"/>
<rect x="1311" y="583" width="1" height="129" fill="#c0c0c0"/>
<rect x="1319" y="585" width="1" height="127" fill="#c0c0c0"/>
<rect x="1327" y="589" width="1" height="123" fill="#c0c0c0"/>
<rect x="1335" y="594" width="1" height="118" fill="#c0c0c0"/>
<rect x="1343" y="609" width="1" height="103" fill="#c0c0c0"/>
<rect x="1351" y="622" width="1" height="90" fill="#c0c0c0"/>
<rect x="1359" y="635" width="1" height="77" fill="#c0c0c0"/>
<rect x="1367" y="645" width="1" height="67" fill="#c0c0c0"/>
<rect x="1375" y="652" width="1" height="60" fill="#c0c0c0"/>
<rect x="1383" y="663" width="1" height="49" fill="#c0c0c0"/>
<rect x="1391" y="676" width="1" height="36" fill="#c0c0c0"/>
<rect x="1399" y="687" width="1" height="25" fill="#c0c0c0"/>
<rect x="1407" y="696" width="1" height="16" fill="#c0c0c0"/>
<rect x="1415" y="707" width="1" height="5" fill="#c0c0c0"/>
<rect x="1431" y="711" width="1" height="14" fill="#c0c0c0"/>
<rect x="1439" y="711" width="1" height="30" fill="#c0c0c0"/>
<rect x="1447" y="711" width="1" height="38" fill="#c0c0c0"/>
<rect x="1455" y="711" width="1" height="44" fill="#c0c0c0"/>
<polyline points="0.0,760.5 2.9,759.2 9.4,755.9 16.0,754.8 22.6,752.9 28.5,750.9 34.6,749.9 46.7,749.9 52.8,750.9 58.9,752.0 64.9,752.9 71.3,754.9 76.8,756.0 82.9,757.9 88.7,759.6 94.5,761.9 100.6,763.8 106.6,765.0 111.5,765.9 118.6,765.9 135.4,765.0 143.3,764.0 148.6,761.0 154.4,757.9 161.0,754.0 167.2,750.4 172.5,746.0 178.7,741.1 184.9,738.0 190.6,734.5 196.4,731.0 202.6,727.9 208.8,725.2 213.2,723.9 236.7,723.9 250.7,724.0 262.2,725.7 274.4,724.0 279.8,722.3 290.7,718.9 304.2,715.8 311.0,712.8 317.8,710.8 325.9,706.7 334.0,702.0 339.5,697.3 346.2,692.5 353.0,687.1 358.4,682.4 365.2,677.6 372.0,672.2 377.4,667.8 384.2,664.1 391.0,662.4 399.1,662.0 405.9,664.7 412.6,669.5 419.4,674.9 426.2,681.0 433.0,687.1 439.8,697.9 446.5,707.4 453.3,716.2 460.1,723.0 466.9,728.4 474.0,733.0 479.0,736.7 488.0,738.0 496.9,737.1 505.9,733.8 518.5,727.7 525.7,720.9 534.6,709.3 545.4,697.6 554.4,685.0 561.6,671.5 567.8,661.7 575.9,648.2 583.1,635.6 592.1,624.9 601.1,614.1 610.0,604.2 617.2,597.0 624.4,592.6 631.6,589.5 642.4,589.0 653.1,590.8 662.1,593.5 669.3,597.9 678.3,602.1 687.2,604.2 694.4,607.8 708.7,610.6 725.4,615.3 738.0,619.1 754.9,625.0 767.6,630.1 780.3,631.8 801.4,631.8 814.1,628.6 826.8,625.9 837.3,622.9 852.1,623.3 869.0,624.0 890.2,625.4 902.8,628.6 915.5,634.9 928.2,642.3 938.7,650.8 942.7,652.9 953.2,661.8 965.9,668.7 982.8,671.9 999.7,668.7 1016.6,661.4 1027.2,655.0 1048.3,655.0 1065.2,657.5 1082.1,664.5 1099.0,669.8 1105.4,671.5 1115.9,669.8 1132.8,666.0 1147.6,660.3 1160.3,657.5 1168.5,656.1 1202.3,656.7 1210.7,656.1 1223.4,653.3 1238.2,649.7 1248.7,644.5 1259.3,637.1 1274.1,622.3 1291.0,606.4 1307.9,594.8 1320.6,587.4 1335.4,584.9 1350.2,589.5 1362.8,599.0 1379.7,614.9 1396.9,639.1 1413.8,662.8 1430.7,683.0 1447.6,705.0 1455.5,714.0" fill="none" stroke="#ff0000" stroke-width="1" stroke-dasharray="3,3" shape-rendering="crispEdges"/>
<line x1="1336" y1="595" x2="1460.3" y2="750.2" stroke="#ff0000" stroke-width="3"/>
<polygon points="1466.5,758 1456.7,753.1 1463.8,747.3" fill="#ff0000"/>
</g>
<text transform="translate(-5.5,797.5) scale(0.93,1)" font-size="10" fill="#000" text-anchor="start" font-weight="normal" stroke="#000" stroke-width="0.2">RSI(14) 36.3891</text>
<rect x="1651" y="787" width="2" height="1" fill="#000"/>
<text transform="translate(1654,796) scale(0.93,1)" font-size="10" fill="#000" text-anchor="start" font-weight="normal" stroke="#000" stroke-width="0.2">100</text>
<rect x="1651" y="815" width="2" height="1" fill="#000"/>
<text transform="translate(1654,819) scale(0.93,1)" font-size="10" fill="#000" text-anchor="start" font-weight="normal" stroke="#000" stroke-width="0.2">80</text>
<rect x="1651" y="857" width="2" height="1" fill="#000"/>
<text transform="translate(1654,861) scale(0.93,1)" font-size="10" fill="#000" text-anchor="start" font-weight="normal" stroke="#000" stroke-width="0.2">50</text>
<rect x="1651" y="906" width="2" height="1" fill="#000"/>
<text transform="translate(1654,910) scale(0.93,1)" font-size="10" fill="#000" text-anchor="start" font-weight="normal" stroke="#000" stroke-width="0.2">15</text>
<rect x="1651" y="927" width="2" height="1" fill="#000"/>
<text transform="translate(1654,925) scale(0.93,1)" font-size="10" fill="#000" text-anchor="start" font-weight="normal" stroke="#000" stroke-width="0.2">0</text>
<g clip-path="url(#cr)">
<line x1="0" y1="815.5" x2="1650" y2="815.5" stroke="#a8a8a8" stroke-dasharray="3,3" stroke-dashoffset="2"/>
<line x1="0" y1="857.5" x2="1650" y2="857.5" stroke="#a8a8a8" stroke-dasharray="3,3" stroke-dashoffset="2"/>
<line x1="0" y1="906.5" x2="1650" y2="906.5" stroke="#a8a8a8" stroke-dasharray="3,3" stroke-dashoffset="2"/>
<polyline points="-0.5,869.4 7.5,867.9 15.5,865.6 23.5,860.0 31.5,865.6 39.5,872.9 47.5,872.9 55.5,865.9 63.5,872.0 71.5,872.9 79.5,874.0 87.5,877.8 95.5,869.8 103.5,868.9 111.5,863.3 119.5,861.0 127.5,865.6 135.5,870.6 143.5,858.0 151.5,849.6 159.5,849.6 167.5,852.7 175.5,858.7 183.5,850.1 191.5,859.5 199.5,863.8 207.5,864.8 215.5,871.7 223.5,867.9 231.5,851.9 239.5,856.4 247.5,861.0 255.5,857.8 263.5,857.8 271.5,850.7 279.5,847.9 287.5,862.7 295.5,856.4 303.5,850.0 311.5,853.1 319.5,849.7 327.5,846.5 335.5,834.7 343.5,841.8 351.5,839.8 359.5,839.8 367.5,843.6 375.5,851.4 383.5,858.5 391.5,862.5 399.5,867.7 407.5,869.1 415.5,871.9 423.5,873.8 431.5,868.1 439.5,872.9 447.5,869.8 455.5,868.7 463.5,864.4 471.5,856.8 479.5,861.0 487.5,850.3 495.5,848.9 503.5,854.0 511.5,849.3 519.5,837.6 527.5,832.3 535.5,828.8 543.5,832.7 551.5,834.0 559.5,828.8 567.5,819.6 575.5,828.8 583.5,826.7 591.5,834.0 599.5,833.0 607.5,833.0 615.5,831.9 623.5,839.8 631.5,839.8 639.5,838.0 647.5,834.7 655.5,837.0 663.5,840.1 671.5,836.6 679.5,829.8 687.5,831.3 695.5,835.9 703.5,835.9 711.5,829.9 719.5,845.1 727.5,845.1 735.5,841.8 743.5,841.8 751.5,845.8 759.5,841.5 767.5,829.1 775.5,828.1 783.5,826.0 791.5,830.2 799.5,838.7 807.5,835.2 815.5,832.3 823.5,829.9 831.5,835.9 839.5,835.9 847.5,833.7 855.5,848.9 863.5,830.9 871.5,836.6 879.5,840.8 887.5,848.9 895.5,847.6 903.5,845.8 911.5,865.8 919.5,855.9 927.5,855.9 935.5,861.0 943.5,854.9 951.5,852.8 959.5,840.1 967.5,845.8 975.5,846.9 983.5,845.8 991.5,845.8 999.5,844.1 1007.5,838.0 1015.5,840.8 1023.5,842.2 1031.5,848.6 1039.5,861.6 1047.5,850.7 1055.5,854.0 1063.5,855.0 1071.5,852.8 1079.5,847.9 1087.5,851.7 1095.5,847.9 1103.5,841.5 1111.5,837.0 1119.5,839.0 1127.5,841.8 1135.5,840.8 1143.5,842.6 1151.5,852.1 1159.5,848.9 1167.5,845.5 1175.5,841.7 1183.5,839.8 1191.5,846.9 1199.5,839.4 1207.5,834.2 1215.5,832.7 1223.5,829.5 1231.5,838.0 1239.5,837.0 1247.5,824.5 1255.5,820.7 1263.5,823.8 1271.5,822.8 1279.5,818.9 1287.5,821.0 1295.5,819.6 1303.5,827.7 1311.5,831.9 1319.5,827.7 1327.5,829.5 1335.5,832.7 1343.5,850.7 1351.5,854.0 1359.5,855.0 1367.5,852.8 1375.5,850.7 1383.5,861.3 1391.5,865.8 1399.5,868.0 1407.5,865.8 1415.5,873.1 1423.5,864.8 1431.5,877.9 1439.5,884.0 1447.5,877.2 1455.5,877.1" fill="none" stroke="#1e90ff" stroke-width="1" shape-rendering="crispEdges"/>
<line x1="1349" y1="838" x2="1454.7" y2="877.6" stroke="#ff0000" stroke-width="3"/>
<polygon points="1465,881.5 1453.0,882.1 1456.4,873.1" fill="#ff0000"/>
</g>
</svg>
</body></html>
